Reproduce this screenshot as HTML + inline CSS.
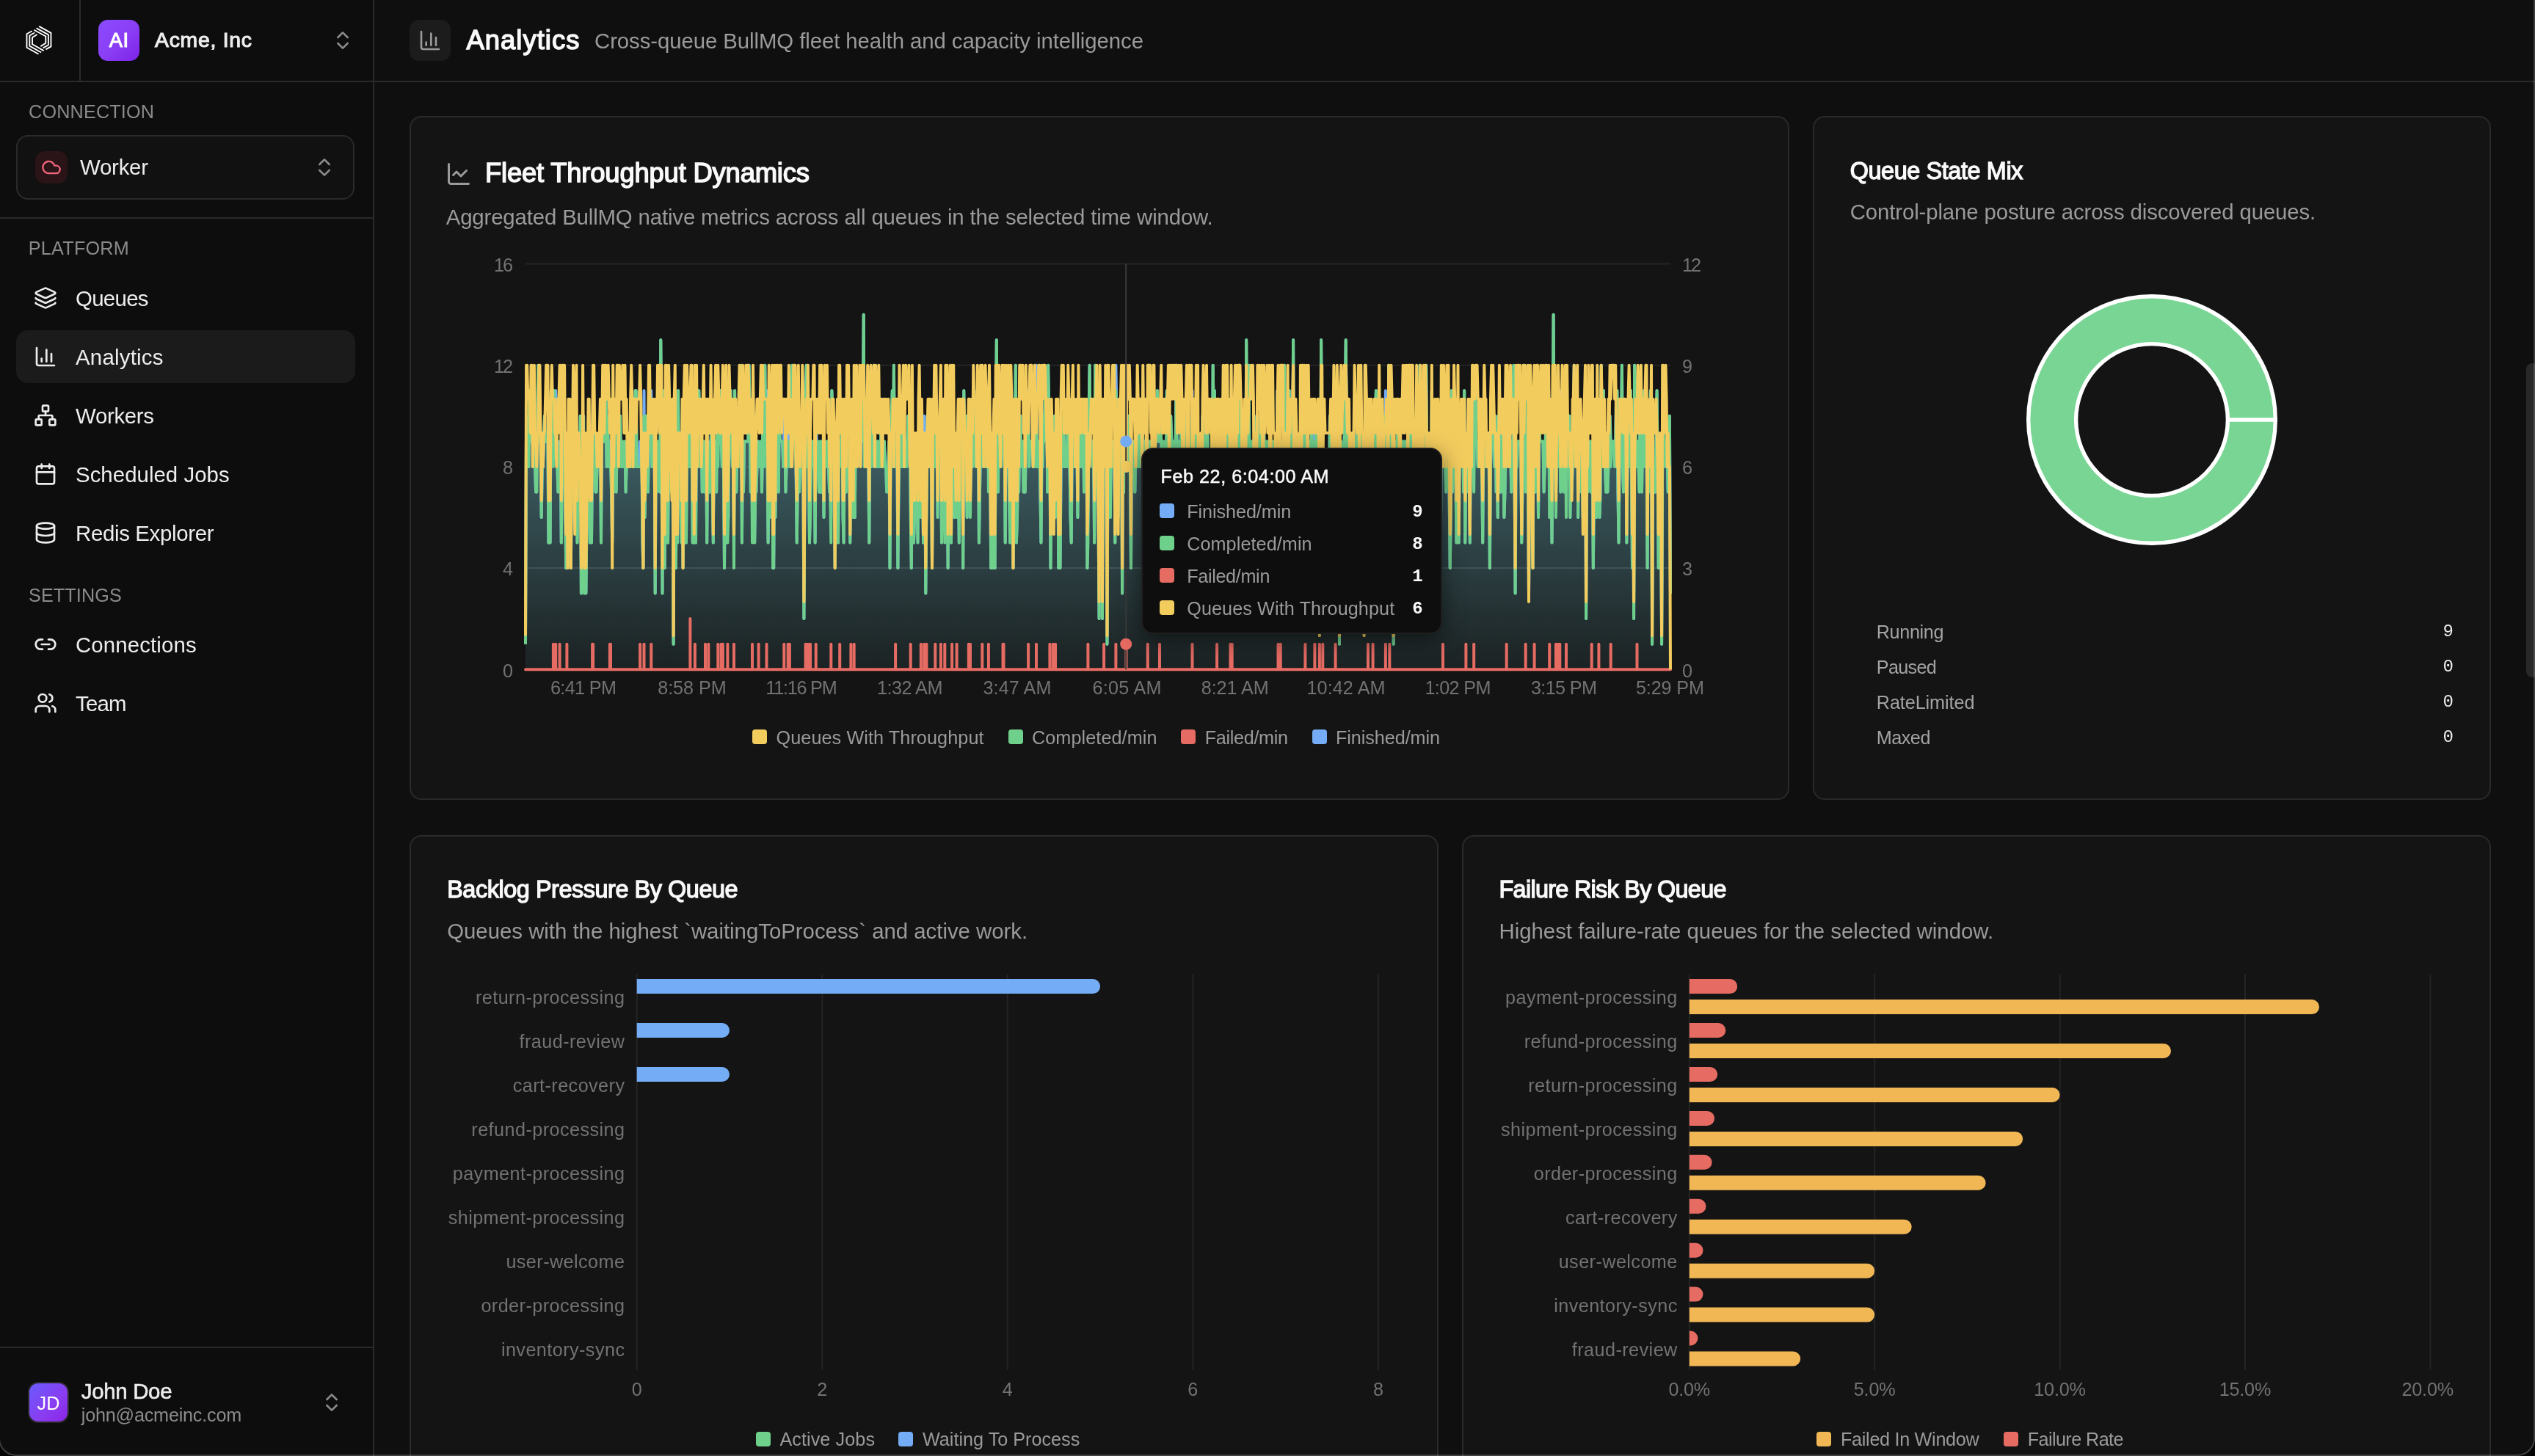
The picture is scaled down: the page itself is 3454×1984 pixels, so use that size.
<!DOCTYPE html>
<html><head><meta charset="utf-8"><title>Analytics</title>
<style>
html,body{margin:0;padding:0;background:#0f0f0f;}
body{width:3454px;height:1984px;position:relative;overflow:hidden;font-family:"Liberation Sans",sans-serif;}
.b{position:absolute;display:block}
.t{position:absolute;white-space:pre;}
#root{position:absolute;left:0;top:0;width:3454px;height:1984px;overflow:hidden;will-change:transform;}
</style></head><body><div id="root">
<div class="b" style="left:0px;top:0px;width:508px;height:1984px;background:#0d0d0d"></div>
<div class="b" style="left:508px;top:0px;width:2px;height:1984px;background:#2a2a2a"></div>
<div class="b" style="left:0px;top:110px;width:3454px;height:2px;background:#2a2a2a"></div>
<div class="b" style="left:108px;top:0px;width:2px;height:110px;background:#2a2a2a"></div>
<svg class="b" style="left:20px;top:20px" width="80" height="80" viewBox="0 0 1456 1456" fill="none" stroke="#fff" stroke-width="34" stroke-linecap="butt" stroke-linejoin="miter"><path d="M430 405L300 478V815L592 978"/><path d="M495 447L370 518V775L657 938"/><path d="M557 492L437 565V732L722 895"/><path d="M605 290L900 452V790L772 862"/><path d="M540 335L835 497V750L705 825"/><path d="M480 377L770 537V707L643 785"/></svg>
<div class="b" style="left:134px;top:27px;width:56px;height:56px;border-radius:13px;background:linear-gradient(135deg,#8a4bff 0%,#8b3ff5 50%,#7e22e8 100%)"></div>
<div class="t" style="left:148.79px;top:38.20px;font-size:27.32px;line-height:34px;color:#fff;letter-spacing:0.600px;-webkit-text-stroke:1.09px #fff;">AI</div>
<div class="t" style="left:211.00px;top:37.00px;font-size:28.34px;line-height:35px;color:#ededed;letter-spacing:0.756px;-webkit-text-stroke:1.13px #ededed;">Acme, Inc</div>
<svg class="b" style="left:451px;top:39px" width="32" height="32" viewBox="0 0 24 24" fill="none" stroke="#8a8a8a" stroke-width="2" stroke-linecap="round" stroke-linejoin="round"><path d="m7 15 5 5 5-5"/><path d="m7 9 5-5 5 5"/></svg>
<div class="t" style="left:39.00px;top:136.40px;font-size:25.2px;line-height:32px;color:#8a8a8a;letter-spacing:0.186px;">CONNECTION</div>
<div class="b" style="left:22px;top:184px;width:461px;height:88px;border-radius:16px;border:2px solid #2a2a2a;box-sizing:border-box;background:#111"></div>
<div class="b" style="left:48px;top:206px;width:44px;height:44px;border-radius:13px;background:#2a1417"></div>
<svg class="b" style="left:56px;top:214px" width="28" height="28" viewBox="0 0 24 24" fill="none" stroke="#f0667c" stroke-width="2" stroke-linecap="round" stroke-linejoin="round"><path d="M17.5 19H9a7 7 0 1 1 6.71-9h1.79a4.5 4.5 0 1 1 0 9Z"/></svg>
<div class="t" style="left:109.00px;top:209.10px;font-size:29.4px;line-height:37px;color:#ededed;letter-spacing:-0.234px;">Worker</div>
<svg class="b" style="left:426px;top:212px" width="32" height="32" viewBox="0 0 24 24" fill="none" stroke="#8a8a8a" stroke-width="2" stroke-linecap="round" stroke-linejoin="round"><path d="m7 15 5 5 5-5"/><path d="m7 9 5-5 5 5"/></svg>
<div class="b" style="left:0px;top:296px;width:508px;height:2px;background:#2a2a2a"></div>
<div class="t" style="left:38.80px;top:322.40px;font-size:25.2px;line-height:32px;color:#8a8a8a;letter-spacing:0.246px;">PLATFORM</div>
<div class="b" style="left:22px;top:450px;width:462px;height:72px;border-radius:16px;background:#1b1b1b"></div>
<svg class="b" style="left:46px;top:390px" width="32" height="32" viewBox="0 0 24 24" fill="none" stroke="#ececec" stroke-width="2" stroke-linecap="round" stroke-linejoin="round"><path d="M12.83 2.18a2 2 0 0 0-1.66 0L2.6 6.08a1 1 0 0 0 0 1.83l8.58 3.91a2 2 0 0 0 1.66 0l8.58-3.9a1 1 0 0 0 0-1.83z"/><path d="M2 12a1 1 0 0 0 .58.91l8.6 3.91a2 2 0 0 0 1.65 0l8.58-3.9A1 1 0 0 0 22 12"/><path d="M2 17a1 1 0 0 0 .58.91l8.6 3.91a2 2 0 0 0 1.65 0l8.58-3.9A1 1 0 0 0 22 17"/></svg>
<div class="t" style="left:103.00px;top:387.50px;font-size:29.4px;line-height:37px;color:#ededed;letter-spacing:-0.691px;">Queues</div>
<svg class="b" style="left:46px;top:470px" width="32" height="32" viewBox="0 0 24 24" fill="none" stroke="#ececec" stroke-width="2" stroke-linecap="round" stroke-linejoin="round"><path d="M3 3v16a2 2 0 0 0 2 2h16"/><path d="M18 17V9"/><path d="M13 17V5"/><path d="M8 17v-3"/></svg>
<div class="t" style="left:103.00px;top:467.50px;font-size:29.4px;line-height:37px;color:#ededed;letter-spacing:0.236px;">Analytics</div>
<svg class="b" style="left:46px;top:550px" width="32" height="32" viewBox="0 0 24 24" fill="none" stroke="#ececec" stroke-width="2" stroke-linecap="round" stroke-linejoin="round"><rect x="16" y="16" width="6" height="6" rx="1"/><rect x="2" y="16" width="6" height="6" rx="1"/><rect x="9" y="2" width="6" height="6" rx="1"/><path d="M5 16v-3a1 1 0 0 1 1-1h12a1 1 0 0 1 1 1v3"/><path d="M12 12V8"/></svg>
<div class="t" style="left:103.00px;top:547.50px;font-size:29.4px;line-height:37px;color:#ededed;letter-spacing:-0.312px;">Workers</div>
<svg class="b" style="left:46px;top:630px" width="32" height="32" viewBox="0 0 24 24" fill="none" stroke="#ececec" stroke-width="2" stroke-linecap="round" stroke-linejoin="round"><path d="M8 2v4"/><path d="M16 2v4"/><rect width="18" height="18" x="3" y="4" rx="2"/><path d="M3 10h18"/></svg>
<div class="t" style="left:103.00px;top:627.50px;font-size:29.4px;line-height:37px;color:#ededed;letter-spacing:0.034px;">Scheduled Jobs</div>
<svg class="b" style="left:46px;top:710px" width="32" height="32" viewBox="0 0 24 24" fill="none" stroke="#ececec" stroke-width="2" stroke-linecap="round" stroke-linejoin="round"><ellipse cx="12" cy="5" rx="9" ry="3"/><path d="M3 5V19A9 3 0 0 0 21 19V5"/><path d="M3 12A9 3 0 0 0 21 12"/></svg>
<div class="t" style="left:103.00px;top:707.50px;font-size:29.4px;line-height:37px;color:#ededed;letter-spacing:-0.327px;">Redis Explorer</div>
<div class="t" style="left:39.00px;top:795.00px;font-size:25.2px;line-height:32px;color:#8a8a8a;letter-spacing:0.107px;">SETTINGS</div>
<svg class="b" style="left:46px;top:862px" width="32" height="32" viewBox="0 0 24 24" fill="none" stroke="#ececec" stroke-width="2" stroke-linecap="round" stroke-linejoin="round"><path d="M9 17H7A5 5 0 0 1 7 7h2"/><path d="M15 7h2a5 5 0 1 1 0 10h-2"/><line x1="8" x2="16" y1="12" y2="12"/></svg>
<div class="t" style="left:103.00px;top:859.50px;font-size:29.4px;line-height:37px;color:#ededed;letter-spacing:0.121px;">Connections</div>
<svg class="b" style="left:46px;top:942px" width="32" height="32" viewBox="0 0 24 24" fill="none" stroke="#ececec" stroke-width="2" stroke-linecap="round" stroke-linejoin="round"><path d="M16 21v-2a4 4 0 0 0-4-4H6a4 4 0 0 0-4 4v2"/><circle cx="9" cy="7" r="4"/><path d="M22 21v-2a4 4 0 0 0-3-3.87"/><path d="M16 3.13a4 4 0 0 1 0 7.75"/></svg>
<div class="t" style="left:103.00px;top:939.50px;font-size:29.4px;line-height:37px;color:#ededed;letter-spacing:-0.792px;">Team</div>
<div class="b" style="left:0px;top:1835px;width:508px;height:2px;background:#2a2a2a"></div>
<div class="b" style="left:38px;top:1883px;width:56px;height:56px;border-radius:14px;border:2px solid #2a2a2a;box-sizing:border-box;background:linear-gradient(135deg,#6a5cff 0%,#8a3cf0 60%,#8a25e8 100%)"></div>
<div class="t" style="left:50.50px;top:1895.50px;font-size:25.2px;line-height:32px;color:#fff;letter-spacing:0.203px;">JD</div>
<div class="t" style="left:110.80px;top:1876.50px;font-size:29.4px;line-height:37px;color:#ededed;letter-spacing:-0.304px;-webkit-text-stroke:0.59px #ededed;">John Doe</div>
<div class="t" style="left:110.80px;top:1912.00px;font-size:25.2px;line-height:32px;color:#8c8c8c;letter-spacing:-0.211px;">john@acmeinc.com</div>
<svg class="b" style="left:436px;top:1895px" width="32" height="32" viewBox="0 0 24 24" fill="none" stroke="#8a8a8a" stroke-width="2" stroke-linecap="round" stroke-linejoin="round"><path d="m7 15 5 5 5-5"/><path d="m7 9 5-5 5 5"/></svg>
<div class="b" style="left:558px;top:27px;width:56px;height:56px;border-radius:13px;background:#1c1c1c"></div>
<svg class="b" style="left:570px;top:39px" width="32" height="32" viewBox="0 0 24 24" fill="none" stroke="#9a9a9a" stroke-width="2" stroke-linecap="round" stroke-linejoin="round"><path d="M3 3v16a2 2 0 0 0 2 2h16"/><path d="M18 17V9"/><path d="M13 17V5"/><path d="M8 17v-3"/></svg>
<div class="t" style="left:635.40px;top:32.10px;font-size:36.43px;line-height:46px;color:#fafafa;letter-spacing:1.031px;-webkit-text-stroke:1.46px #fafafa;">Analytics</div>
<div class="t" style="left:810.00px;top:37.00px;font-size:29.4px;line-height:37px;color:#9a9a9a;letter-spacing:-0.092px;">Cross-queue BullMQ fleet health and capacity intelligence</div>
<div class="b" style="left:558px;top:158px;width:1880px;height:932px;border-radius:16px;border:2px solid #2a2a2a;box-sizing:border-box;background:#141414"></div>
<div class="b" style="left:2470px;top:158px;width:924px;height:932px;border-radius:16px;border:2px solid #2a2a2a;box-sizing:border-box;background:#141414"></div>
<div class="b" style="left:558px;top:1138px;width:1402px;height:900px;border-radius:16px;border:2px solid #2a2a2a;box-sizing:border-box;background:#141414"></div>
<div class="b" style="left:1992px;top:1138px;width:1402px;height:900px;border-radius:16px;border:2px solid #2a2a2a;box-sizing:border-box;background:#141414"></div>
<svg class="b" style="left:607px;top:218.5px" width="36" height="36" viewBox="0 0 24 24" fill="none" stroke="#9a9a9a" stroke-width="2" stroke-linecap="round" stroke-linejoin="round"><path d="M3 3v16a2 2 0 0 0 2 2h16"/><path d="m19 9-5 5-4-4-3 3"/></svg>
<div class="t" style="left:661.00px;top:213.40px;font-size:36.43px;line-height:46px;color:#fafafa;letter-spacing:-0.197px;-webkit-text-stroke:1.46px #fafafa;">Fleet Throughput Dynamics</div>
<div class="t" style="left:607.70px;top:277.20px;font-size:29.4px;line-height:37px;color:#9a9a9a;letter-spacing:-0.153px;">Aggregated BullMQ native metrics across all queues in the selected time window.</div>
<svg class="b" style="left:0;top:0" width="3454" height="1100" viewBox="0 0 3454 1100" fill="none"><defs><linearGradient id="ga" gradientUnits="userSpaceOnUse" x1="0" y1="430" x2="0" y2="912"><stop offset="0" stop-color="#76c6d2" stop-opacity=".62"/><stop offset="1" stop-color="#76c6d2" stop-opacity=".08"/></linearGradient><linearGradient id="gr" gradientUnits="userSpaceOnUse" x1="0" y1="840" x2="0" y2="912"><stop offset="0" stop-color="#e66b63" stop-opacity=".9"/><stop offset="1" stop-color="#e66b63" stop-opacity=".6"/></linearGradient></defs><path d="M716.0,912.2H2276.0" stroke="#242424" stroke-width="2"/><path d="M716.0,774.1H2276.0" stroke="#242424" stroke-width="2"/><path d="M716.0,635.9H2276.0" stroke="#242424" stroke-width="2"/><path d="M716.0,497.8H2276.0" stroke="#242424" stroke-width="2"/><path d="M716.0,359.6H2276.0" stroke="#242424" stroke-width="2"/><path d="M716.0,877.7L717.1,566.8L718.2,601.4L719.3,635.9L720.3,635.9L721.4,532.3L722.5,532.3L723.6,601.4L725.8,601.4L726.8,635.9L727.9,601.4L729.0,635.9L730.1,670.4L731.2,670.4L732.3,566.8L733.3,497.8L734.4,601.4L736.6,601.4L737.7,705.0L738.8,635.9L739.8,635.9L740.9,601.4L742.0,566.8L743.1,601.4L746.4,601.4L747.4,739.5L748.5,566.8L749.6,739.5L750.7,532.3L751.8,601.4L753.9,601.4L755.0,532.3L756.1,601.4L757.2,532.3L758.3,566.8L759.4,635.9L760.4,670.4L761.5,635.9L762.6,601.4L763.7,601.4L764.8,739.5L765.9,635.9L767.0,497.8L768.0,635.9L769.1,601.4L770.2,705.0L771.3,774.1L772.4,601.4L773.5,774.1L774.5,635.9L775.6,601.4L776.7,566.8L777.8,774.1L778.9,670.4L780.0,670.4L781.0,601.4L782.1,635.9L783.2,705.0L784.3,635.9L785.4,601.4L786.5,739.5L787.5,670.4L788.6,601.4L789.7,670.4L790.8,566.8L791.9,808.6L793.0,774.1L794.1,566.8L795.1,566.8L796.2,808.6L797.3,670.4L798.4,808.6L799.5,705.0L800.6,670.4L801.6,601.4L802.7,635.9L803.8,739.5L804.9,635.9L806.0,739.5L807.1,601.4L808.1,532.3L809.2,601.4L810.3,635.9L811.4,670.4L812.5,670.4L813.6,635.9L816.8,635.9L817.9,601.4L819.0,739.5L820.1,566.8L821.2,601.4L822.2,601.4L823.3,566.8L824.4,601.4L825.5,532.3L826.6,635.9L827.7,566.8L828.7,601.4L829.8,635.9L830.9,601.4L832.0,601.4L833.1,670.4L834.2,739.5L835.2,601.4L836.3,670.4L837.4,566.8L838.5,566.8L839.6,670.4L840.7,601.4L841.8,601.4L842.8,566.8L843.9,601.4L845.0,566.8L846.1,635.9L847.2,635.9L848.3,601.4L849.3,635.9L850.4,635.9L851.5,601.4L852.6,670.4L853.7,635.9L856.9,635.9L858.0,601.4L859.1,635.9L860.2,601.4L861.3,635.9L862.4,601.4L863.4,635.9L864.5,635.9L865.6,532.3L866.7,532.3L867.8,635.9L871.0,635.9L872.1,601.4L873.2,635.9L874.3,601.4L875.4,739.5L876.4,774.1L877.5,532.3L878.6,705.0L879.7,635.9L880.8,566.8L881.9,566.8L882.9,670.4L884.0,601.4L886.2,601.4L887.3,532.3L888.4,635.9L889.5,601.4L890.5,635.9L891.6,601.4L892.7,808.6L893.8,601.4L894.9,670.4L896.0,601.4L897.0,635.9L898.1,601.4L899.2,670.4L900.3,463.2L901.4,601.4L902.5,808.6L903.5,532.3L904.6,635.9L905.7,774.1L906.8,532.3L907.9,601.4L909.0,739.5L910.1,739.5L911.1,601.4L912.2,635.9L913.3,635.9L914.4,670.4L915.5,670.4L916.6,635.9L917.6,877.7L918.7,635.9L919.8,601.4L920.9,774.1L922.0,635.9L923.1,739.5L924.1,532.3L925.2,670.4L926.3,601.4L927.4,670.4L928.5,739.5L929.6,601.4L930.6,774.1L931.7,635.9L932.8,601.4L933.9,739.5L935.0,739.5L936.1,601.4L937.2,635.9L938.2,566.8L939.3,635.9L940.4,566.8L941.5,532.3L942.6,601.4L943.7,739.5L944.7,635.9L945.8,739.5L946.9,566.8L948.0,739.5L949.1,566.8L950.2,532.3L951.2,635.9L952.3,532.3L953.4,601.4L954.5,635.9L955.6,566.8L956.7,670.4L957.8,601.4L958.8,601.4L959.9,670.4L961.0,601.4L962.1,601.4L963.2,739.5L964.3,601.4L965.3,601.4L966.4,670.4L967.5,670.4L968.6,601.4L969.7,566.8L970.8,670.4L971.8,739.5L972.9,601.4L974.0,635.9L975.1,601.4L976.2,670.4L977.3,532.3L978.3,601.4L979.4,566.8L980.5,532.3L981.6,532.3L982.7,566.8L983.8,635.9L984.9,601.4L985.9,635.9L987.0,774.1L988.1,635.9L989.2,601.4L990.3,739.5L991.4,705.0L992.4,705.0L993.5,566.8L994.6,566.8L995.7,532.3L996.8,601.4L997.9,635.9L998.9,601.4L1000.0,739.5L1001.1,532.3L1002.2,635.9L1003.3,670.4L1004.4,566.8L1005.5,635.9L1006.5,601.4L1007.6,601.4L1008.7,635.9L1009.8,497.8L1010.9,739.5L1012.0,601.4L1013.0,670.4L1014.1,601.4L1019.5,601.4L1020.6,497.8L1021.7,566.8L1022.8,670.4L1023.9,566.8L1025.0,705.0L1026.0,532.3L1027.1,635.9L1028.2,739.5L1029.3,670.4L1030.4,670.4L1031.5,635.9L1032.6,601.4L1033.6,601.4L1034.7,635.9L1035.8,635.9L1036.9,601.4L1038.0,670.4L1039.1,601.4L1040.1,532.3L1041.2,635.9L1042.3,497.8L1043.4,601.4L1044.5,532.3L1045.6,635.9L1046.6,739.5L1047.7,601.4L1048.8,705.0L1049.9,635.9L1051.0,566.8L1052.1,566.8L1053.2,774.1L1054.2,774.1L1055.3,601.4L1056.4,705.0L1057.5,601.4L1058.6,566.8L1059.7,601.4L1060.7,670.4L1061.8,566.8L1062.9,601.4L1066.2,601.4L1067.2,635.9L1068.3,566.8L1069.4,601.4L1070.5,670.4L1071.6,635.9L1072.7,635.9L1073.7,566.8L1074.8,601.4L1075.9,601.4L1077.0,635.9L1078.1,601.4L1079.2,497.8L1080.3,566.8L1081.3,532.3L1082.4,601.4L1083.5,601.4L1084.6,635.9L1085.7,739.5L1086.8,670.4L1087.8,532.3L1088.9,670.4L1090.0,635.9L1091.1,566.8L1092.2,566.8L1093.3,601.4L1094.3,635.9L1095.4,843.1L1096.5,670.4L1097.6,532.3L1098.7,497.8L1099.8,635.9L1100.9,601.4L1101.9,635.9L1103.0,739.5L1104.1,670.4L1105.2,635.9L1106.3,601.4L1107.4,635.9L1108.4,601.4L1109.5,601.4L1110.6,739.5L1111.7,566.8L1112.8,601.4L1113.9,601.4L1114.9,635.9L1116.0,670.4L1117.1,601.4L1118.2,670.4L1119.3,601.4L1120.4,670.4L1121.4,635.9L1122.5,705.0L1123.6,601.4L1124.7,635.9L1125.8,635.9L1126.9,601.4L1128.0,601.4L1129.0,635.9L1130.1,670.4L1131.2,670.4L1132.3,705.0L1133.4,532.3L1134.5,566.8L1135.5,566.8L1136.6,601.4L1137.7,774.1L1138.8,635.9L1141.0,635.9L1142.0,739.5L1143.1,601.4L1146.4,601.4L1147.5,566.8L1148.6,705.0L1149.6,739.5L1150.7,635.9L1151.8,601.4L1152.9,670.4L1154.0,601.4L1155.1,635.9L1156.1,601.4L1157.2,635.9L1158.3,739.5L1159.4,601.4L1160.5,635.9L1161.6,670.4L1162.6,705.0L1163.7,601.4L1164.8,705.0L1165.9,566.8L1167.0,601.4L1168.1,532.3L1169.1,601.4L1171.3,601.4L1172.4,635.9L1173.5,566.8L1174.6,601.4L1175.7,566.8L1176.7,428.7L1177.8,635.9L1178.9,601.4L1180.0,635.9L1181.1,601.4L1182.2,601.4L1183.2,635.9L1184.3,739.5L1185.4,566.8L1186.5,601.4L1187.6,635.9L1188.7,532.3L1189.7,532.3L1190.8,497.8L1191.9,635.9L1193.0,601.4L1194.1,635.9L1195.2,601.4L1196.3,635.9L1197.3,601.4L1198.4,635.9L1199.5,635.9L1200.6,566.8L1201.7,566.8L1202.8,635.9L1203.8,635.9L1204.9,601.4L1206.0,635.9L1207.1,635.9L1208.2,670.4L1209.3,635.9L1210.3,635.9L1211.4,601.4L1212.5,774.1L1213.6,601.4L1214.7,566.8L1215.8,532.3L1216.8,635.9L1217.9,497.8L1219.0,635.9L1220.1,601.4L1221.2,635.9L1222.3,601.4L1223.4,774.1L1224.4,670.4L1225.5,566.8L1226.6,635.9L1227.7,635.9L1228.8,566.8L1229.9,635.9L1230.9,601.4L1232.0,635.9L1233.1,635.9L1234.2,601.4L1235.3,635.9L1236.4,601.4L1237.4,566.8L1239.6,566.8L1240.7,670.4L1241.8,774.1L1242.9,601.4L1243.9,670.4L1245.0,739.5L1246.1,705.0L1247.2,601.4L1248.3,601.4L1249.4,635.9L1250.5,739.5L1251.5,635.9L1252.6,601.4L1253.7,635.9L1254.8,670.4L1255.9,601.4L1257.0,635.9L1258.0,739.5L1259.1,566.8L1260.2,635.9L1261.3,808.6L1262.4,670.4L1263.5,566.8L1264.5,635.9L1265.6,635.9L1266.7,566.8L1267.8,635.9L1268.9,635.9L1270.0,774.1L1271.1,635.9L1272.1,601.4L1273.2,566.8L1274.3,601.4L1275.4,566.8L1276.5,601.4L1277.6,705.0L1278.6,601.4L1279.7,601.4L1280.8,635.9L1281.9,566.8L1283.0,739.5L1284.1,635.9L1285.1,635.9L1286.2,601.4L1287.3,705.0L1288.4,566.8L1289.5,635.9L1290.6,601.4L1291.6,774.1L1292.7,601.4L1293.8,635.9L1294.9,601.4L1296.0,739.5L1297.1,566.8L1298.2,635.9L1299.2,601.4L1300.3,705.0L1301.4,635.9L1302.5,670.4L1304.7,670.4L1305.7,635.9L1306.8,739.5L1307.9,635.9L1309.0,566.8L1310.1,601.4L1311.2,601.4L1312.2,774.1L1313.3,532.3L1314.4,635.9L1315.5,566.8L1316.6,635.9L1317.7,705.0L1318.8,566.8L1319.8,635.9L1320.9,566.8L1322.0,670.4L1323.1,601.4L1324.2,566.8L1325.3,635.9L1326.3,566.8L1327.4,532.3L1328.5,601.4L1329.6,635.9L1330.7,635.9L1331.8,601.4L1332.8,566.8L1333.9,739.5L1335.0,670.4L1336.1,601.4L1337.2,635.9L1338.3,497.8L1339.3,601.4L1340.4,601.4L1341.5,635.9L1342.6,566.8L1343.7,635.9L1344.8,532.3L1345.9,532.3L1346.9,635.9L1348.0,601.4L1349.1,635.9L1350.2,774.1L1351.3,670.4L1352.4,774.1L1353.4,601.4L1354.5,635.9L1355.6,774.1L1356.7,601.4L1357.8,463.2L1358.9,601.4L1359.9,670.4L1361.0,532.3L1362.1,601.4L1363.2,635.9L1364.3,635.9L1365.4,601.4L1366.5,566.8L1367.5,532.3L1368.6,566.8L1369.7,739.5L1370.8,566.8L1371.9,635.9L1373.0,601.4L1374.0,601.4L1375.1,670.4L1376.2,739.5L1377.3,566.8L1378.4,635.9L1379.5,635.9L1380.5,774.1L1381.6,635.9L1382.7,635.9L1383.8,497.8L1384.9,739.5L1386.0,705.0L1387.0,635.9L1388.1,670.4L1389.2,601.4L1390.3,566.8L1391.4,635.9L1392.5,601.4L1393.6,601.4L1394.6,670.4L1395.7,601.4L1396.8,670.4L1397.9,601.4L1399.0,566.8L1400.1,566.8L1401.1,532.3L1402.2,635.9L1403.3,601.4L1406.6,601.4L1407.6,635.9L1408.7,601.4L1409.8,532.3L1410.9,635.9L1412.0,497.8L1413.1,635.9L1414.2,635.9L1415.2,601.4L1416.3,601.4L1417.4,670.4L1418.5,739.5L1419.6,601.4L1420.7,635.9L1421.7,566.8L1422.8,601.4L1423.9,532.3L1425.0,566.8L1426.1,532.3L1427.2,670.4L1428.2,497.8L1429.3,566.8L1430.4,601.4L1431.5,774.1L1432.6,635.9L1434.7,635.9L1435.8,705.0L1436.9,566.8L1438.0,670.4L1439.1,635.9L1440.2,601.4L1441.3,635.9L1442.3,774.1L1443.4,601.4L1444.5,774.1L1445.6,635.9L1446.7,601.4L1447.8,635.9L1448.8,566.8L1449.9,601.4L1451.0,635.9L1453.2,635.9L1454.3,601.4L1455.3,566.8L1456.4,635.9L1457.5,635.9L1458.6,705.0L1459.7,739.5L1460.8,601.4L1461.9,532.3L1462.9,635.9L1464.0,601.4L1465.1,635.9L1466.2,601.4L1467.3,601.4L1468.4,705.0L1469.4,601.4L1470.5,601.4L1471.6,566.8L1472.7,635.9L1474.9,635.9L1475.9,566.8L1477.0,670.4L1478.1,601.4L1479.2,566.8L1480.3,566.8L1481.4,774.1L1482.4,705.0L1483.5,566.8L1484.6,497.8L1485.7,601.4L1487.9,601.4L1489.0,635.9L1490.0,601.4L1491.1,739.5L1492.2,497.8L1493.3,566.8L1494.4,532.3L1495.5,670.4L1496.5,705.0L1497.6,843.1L1498.7,601.4L1499.8,670.4L1500.9,635.9L1502.0,843.1L1503.0,635.9L1504.1,601.4L1506.3,601.4L1507.4,635.9L1508.5,877.7L1509.6,601.4L1511.7,601.4L1512.8,705.0L1513.9,601.4L1515.0,635.9L1516.1,601.4L1517.1,635.9L1518.2,601.4L1519.3,739.5L1520.4,497.8L1521.5,566.8L1522.6,601.4L1523.6,705.0L1524.7,601.4L1525.8,566.8L1526.9,635.9L1528.0,601.4L1529.1,808.6L1530.1,601.4L1531.2,635.9L1532.3,670.4L1533.4,601.4L1535.6,601.4L1536.7,635.9L1537.7,566.8L1538.8,601.4L1539.9,635.9L1541.0,774.1L1542.1,601.4L1544.2,601.4L1545.3,635.9L1546.4,670.4L1547.5,601.4L1548.6,635.9L1549.7,566.8L1550.7,635.9L1552.9,635.9L1554.0,601.4L1555.1,566.8L1556.2,566.8L1557.3,601.4L1558.3,635.9L1559.4,601.4L1560.5,635.9L1561.6,670.4L1562.7,705.0L1563.8,601.4L1567.0,601.4L1568.1,635.9L1569.2,670.4L1570.3,670.4L1571.3,601.4L1572.4,601.4L1573.5,566.8L1574.6,601.4L1575.7,566.8L1576.8,532.3L1577.8,601.4L1578.9,601.4L1580.0,566.8L1581.1,566.8L1582.2,601.4L1583.3,670.4L1584.4,601.4L1585.4,670.4L1586.5,635.9L1587.6,601.4L1588.7,670.4L1589.8,532.3L1590.9,566.8L1591.9,601.4L1594.1,601.4L1595.2,566.8L1596.3,601.4L1597.4,635.9L1598.4,601.4L1599.5,601.4L1600.6,635.9L1601.7,601.4L1602.8,497.8L1603.9,635.9L1605.0,635.9L1606.0,601.4L1607.1,601.4L1608.2,635.9L1609.3,566.8L1610.4,601.4L1611.5,670.4L1612.5,601.4L1613.6,566.8L1614.7,635.9L1615.8,635.9L1616.9,601.4L1618.0,566.8L1619.0,774.1L1620.1,601.4L1621.2,601.4L1622.3,635.9L1623.4,601.4L1624.5,532.3L1625.5,635.9L1627.7,635.9L1628.8,566.8L1629.9,601.4L1631.0,670.4L1632.1,601.4L1633.1,774.1L1634.2,774.1L1635.3,601.4L1636.4,601.4L1637.5,739.5L1638.6,566.8L1639.6,601.4L1640.7,601.4L1641.8,635.9L1642.9,635.9L1644.0,566.8L1645.1,566.8L1646.1,635.9L1648.3,635.9L1649.4,670.4L1650.5,635.9L1651.6,705.0L1652.7,497.8L1653.7,566.8L1654.8,532.3L1655.9,670.4L1657.0,670.4L1658.1,566.8L1659.2,601.4L1660.2,601.4L1661.3,670.4L1662.4,705.0L1663.5,601.4L1664.6,635.9L1665.7,601.4L1666.7,601.4L1667.8,670.4L1668.9,739.5L1670.0,566.8L1671.1,670.4L1672.2,601.4L1673.2,601.4L1674.3,566.8L1675.4,566.8L1676.5,739.5L1677.6,566.8L1678.7,635.9L1679.8,635.9L1680.8,566.8L1681.9,601.4L1683.0,601.4L1684.1,739.5L1685.2,601.4L1686.3,635.9L1687.3,601.4L1688.4,497.8L1689.5,601.4L1690.6,635.9L1691.7,635.9L1692.8,774.1L1693.8,566.8L1694.9,601.4L1696.0,566.8L1697.1,705.0L1698.2,463.2L1699.3,635.9L1700.4,670.4L1701.4,497.8L1702.5,635.9L1703.6,635.9L1704.7,601.4L1705.8,635.9L1706.9,601.4L1707.9,635.9L1709.0,705.0L1710.1,670.4L1711.2,635.9L1712.3,566.8L1713.4,566.8L1714.4,635.9L1715.5,601.4L1716.6,635.9L1717.7,601.4L1718.8,532.3L1719.9,566.8L1720.9,739.5L1722.0,566.8L1723.1,670.4L1724.2,601.4L1725.3,635.9L1726.4,601.4L1727.5,635.9L1728.5,635.9L1729.6,601.4L1730.7,774.1L1731.8,670.4L1732.9,601.4L1734.0,601.4L1735.0,635.9L1736.1,635.9L1737.2,601.4L1738.3,635.9L1739.4,635.9L1740.5,532.3L1741.5,601.4L1742.6,635.9L1743.7,808.6L1744.8,601.4L1748.1,601.4L1749.1,739.5L1750.2,497.8L1751.3,635.9L1752.4,635.9L1753.5,705.0L1754.6,601.4L1755.6,739.5L1756.7,532.3L1757.8,670.4L1758.9,635.9L1760.0,601.4L1761.1,635.9L1762.1,463.2L1763.2,705.0L1764.3,635.9L1766.5,635.9L1767.6,670.4L1768.6,705.0L1769.7,705.0L1770.8,843.1L1771.9,601.4L1773.0,705.0L1774.1,601.4L1775.2,566.8L1776.2,532.3L1777.3,566.8L1778.4,601.4L1779.5,635.9L1780.6,601.4L1781.7,739.5L1782.7,601.4L1783.8,601.4L1784.9,635.9L1786.0,635.9L1787.1,566.8L1788.2,670.4L1789.2,635.9L1790.3,635.9L1791.4,566.8L1792.5,635.9L1793.6,566.8L1794.7,635.9L1796.8,635.9L1797.9,808.6L1799.0,705.0L1800.1,463.2L1801.2,601.4L1802.3,670.4L1803.3,635.9L1805.5,635.9L1806.6,670.4L1807.7,635.9L1809.8,635.9L1810.9,670.4L1812.0,566.8L1813.1,635.9L1814.2,635.9L1815.3,739.5L1816.3,670.4L1817.4,601.4L1818.5,566.8L1819.6,705.0L1820.7,670.4L1821.8,601.4L1822.9,635.9L1823.9,635.9L1825.0,877.7L1826.1,601.4L1827.2,601.4L1828.3,635.9L1830.4,635.9L1831.5,601.4L1832.6,566.8L1833.7,463.2L1834.8,566.8L1835.9,670.4L1836.9,601.4L1838.0,601.4L1839.1,635.9L1840.2,670.4L1841.3,808.6L1842.4,670.4L1843.4,635.9L1844.5,601.4L1845.6,601.4L1846.7,635.9L1847.8,635.9L1848.9,566.8L1850.0,635.9L1851.0,601.4L1852.1,670.4L1853.2,566.8L1854.3,601.4L1855.4,601.4L1856.5,670.4L1857.5,601.4L1858.6,843.1L1859.7,601.4L1860.8,601.4L1861.9,635.9L1863.0,635.9L1864.0,601.4L1865.1,705.0L1866.2,635.9L1868.4,635.9L1869.5,566.8L1870.6,601.4L1871.6,635.9L1872.7,566.8L1873.8,566.8L1874.9,532.3L1876.0,635.9L1877.1,635.9L1878.1,739.5L1879.2,601.4L1880.3,601.4L1881.4,670.4L1882.5,566.8L1883.6,635.9L1884.6,635.9L1885.7,566.8L1886.8,670.4L1887.9,532.3L1889.0,601.4L1890.1,635.9L1891.1,705.0L1892.2,497.8L1893.3,601.4L1894.4,635.9L1895.5,601.4L1896.6,635.9L1897.7,566.8L1898.7,877.7L1899.8,601.4L1900.9,670.4L1902.0,601.4L1903.1,670.4L1904.2,566.8L1905.2,635.9L1906.3,635.9L1907.4,774.1L1908.5,635.9L1909.6,601.4L1910.7,635.9L1911.7,601.4L1912.8,670.4L1913.9,601.4L1915.0,601.4L1916.1,635.9L1917.2,601.4L1918.3,635.9L1919.3,566.8L1920.4,601.4L1921.5,601.4L1922.6,635.9L1923.7,601.4L1924.8,566.8L1925.8,670.4L1926.9,739.5L1928.0,670.4L1929.1,670.4L1930.2,601.4L1931.3,635.9L1932.3,601.4L1933.4,705.0L1934.5,497.8L1935.6,601.4L1936.7,566.8L1937.8,635.9L1938.8,774.1L1939.9,601.4L1941.0,635.9L1942.1,601.4L1943.2,497.8L1944.3,635.9L1945.4,601.4L1946.4,601.4L1947.5,705.0L1948.6,670.4L1949.7,739.5L1950.8,532.3L1951.9,705.0L1952.9,635.9L1954.0,566.8L1955.1,635.9L1956.2,705.0L1957.3,566.8L1958.4,635.9L1959.4,566.8L1960.5,635.9L1961.6,601.4L1962.7,774.1L1963.8,566.8L1964.9,566.8L1966.0,601.4L1967.0,566.8L1968.1,635.9L1969.2,635.9L1970.3,670.4L1971.4,601.4L1972.5,566.8L1973.5,601.4L1974.6,670.4L1975.7,774.1L1976.8,705.0L1977.9,532.3L1979.0,670.4L1980.0,635.9L1981.1,532.3L1982.2,635.9L1983.3,635.9L1984.4,739.5L1985.5,705.0L1986.5,601.4L1987.6,739.5L1988.7,635.9L1992.0,635.9L1993.1,566.8L1994.1,670.4L1995.2,532.3L1996.3,739.5L1997.4,601.4L1998.5,670.4L1999.6,635.9L2000.6,601.4L2001.7,635.9L2002.8,739.5L2003.9,601.4L2005.0,635.9L2006.1,566.8L2007.1,601.4L2008.2,635.9L2009.3,532.3L2010.4,532.3L2011.5,601.4L2012.6,601.4L2013.7,635.9L2014.7,635.9L2015.8,601.4L2018.0,601.4L2019.1,635.9L2020.2,739.5L2021.2,601.4L2022.3,601.4L2023.4,635.9L2026.7,635.9L2027.7,601.4L2028.8,635.9L2029.9,774.1L2031.0,635.9L2032.1,601.4L2033.2,566.8L2034.2,601.4L2035.3,566.8L2036.4,635.9L2037.5,566.8L2038.6,670.4L2039.7,635.9L2040.8,705.0L2041.8,566.8L2042.9,601.4L2044.0,670.4L2045.1,670.4L2046.2,635.9L2047.3,566.8L2048.3,635.9L2049.4,705.0L2050.5,670.4L2051.6,601.4L2052.7,532.3L2053.8,601.4L2054.8,635.9L2057.0,635.9L2058.1,601.4L2059.2,670.4L2060.3,601.4L2061.4,601.4L2062.4,497.8L2063.5,635.9L2064.6,808.6L2065.7,601.4L2066.8,635.9L2067.9,601.4L2072.2,601.4L2073.3,739.5L2074.4,670.4L2075.4,601.4L2076.5,635.9L2077.6,497.8L2078.7,635.9L2079.8,566.8L2080.9,635.9L2081.9,601.4L2083.0,808.6L2084.1,635.9L2085.2,601.4L2086.3,635.9L2087.4,670.4L2088.5,774.1L2089.5,566.8L2090.6,601.4L2091.7,670.4L2092.8,635.9L2093.9,601.4L2095.0,601.4L2096.0,705.0L2097.1,566.8L2098.2,601.4L2102.5,601.4L2103.6,670.4L2104.7,635.9L2105.8,601.4L2106.9,497.8L2108.0,601.4L2109.1,601.4L2110.1,532.3L2111.2,670.4L2112.3,635.9L2113.4,601.4L2114.5,739.5L2115.6,601.4L2116.6,428.7L2117.7,635.9L2118.8,566.8L2119.9,670.4L2121.0,635.9L2122.1,566.8L2123.1,601.4L2124.2,635.9L2125.3,532.3L2126.4,670.4L2127.5,635.9L2128.6,601.4L2129.6,601.4L2130.7,670.4L2131.8,601.4L2132.9,532.3L2134.0,670.4L2135.1,601.4L2136.2,635.9L2137.2,566.8L2138.3,566.8L2139.4,705.0L2140.5,635.9L2141.6,670.4L2142.7,635.9L2143.7,635.9L2144.8,497.8L2145.9,601.4L2147.0,601.4L2148.1,635.9L2149.2,566.8L2150.2,705.0L2151.3,566.8L2152.4,566.8L2153.5,635.9L2154.6,670.4L2155.7,635.9L2156.8,705.0L2157.8,670.4L2158.9,566.8L2160.0,601.4L2161.1,843.1L2162.2,601.4L2163.3,670.4L2164.3,601.4L2166.5,601.4L2167.6,670.4L2168.7,601.4L2169.8,601.4L2170.8,774.1L2171.9,670.4L2173.0,601.4L2174.1,635.9L2175.2,705.0L2176.3,601.4L2177.3,601.4L2178.4,635.9L2179.5,705.0L2180.6,670.4L2181.7,497.8L2182.8,635.9L2183.9,635.9L2184.9,532.3L2186.0,635.9L2187.1,635.9L2188.2,670.4L2189.3,635.9L2190.4,670.4L2191.4,635.9L2192.5,566.8L2193.6,566.8L2194.7,601.4L2199.0,601.4L2200.1,635.9L2201.2,601.4L2202.3,532.3L2203.4,532.3L2204.5,670.4L2205.5,739.5L2206.6,635.9L2207.7,635.9L2208.8,601.4L2209.9,497.8L2211.0,635.9L2212.0,670.4L2213.1,635.9L2214.2,601.4L2215.3,566.8L2216.4,739.5L2217.5,635.9L2218.5,566.8L2219.6,601.4L2220.7,635.9L2221.8,532.3L2222.9,635.9L2224.0,774.1L2225.0,635.9L2226.1,843.1L2227.2,497.8L2228.3,532.3L2229.4,635.9L2230.5,601.4L2231.6,601.4L2232.6,635.9L2233.7,670.4L2234.8,532.3L2235.9,601.4L2237.0,670.4L2238.1,601.4L2239.1,566.8L2240.2,532.3L2241.3,635.9L2242.4,601.4L2243.5,601.4L2244.6,774.1L2245.6,566.8L2246.7,670.4L2247.8,601.4L2248.9,532.3L2250.0,566.8L2251.1,877.7L2252.2,635.9L2253.2,670.4L2254.3,635.9L2255.4,670.4L2256.5,601.4L2257.6,532.3L2258.7,635.9L2259.7,774.1L2260.8,774.1L2261.9,601.4L2263.0,670.4L2264.1,877.7L2265.2,601.4L2266.2,532.3L2267.3,601.4L2268.4,635.9L2269.5,601.4L2271.7,601.4L2272.7,670.4L2273.8,670.4L2274.9,566.8L2276.0,808.6V912.2H716.0Z" fill="url(#ga)"/><path d="M716.0,877.7L717.1,566.8L718.2,601.4L719.3,635.9L720.3,635.9L721.4,532.3L722.5,532.3L723.6,601.4L725.8,601.4L726.8,635.9L727.9,601.4L729.0,635.9L730.1,670.4L731.2,670.4L732.3,566.8L733.3,497.8L734.4,601.4L736.6,601.4L737.7,705.0L738.8,635.9L739.8,635.9L740.9,601.4L742.0,566.8L743.1,601.4L746.4,601.4L747.4,739.5L748.5,566.8L749.6,739.5L750.7,532.3L751.8,601.4L753.9,601.4L755.0,532.3L756.1,601.4L757.2,532.3L758.3,566.8L759.4,635.9L760.4,670.4L761.5,635.9L762.6,601.4L763.7,601.4L764.8,739.5L765.9,635.9L767.0,497.8L768.0,635.9L769.1,601.4L770.2,705.0L771.3,774.1L772.4,601.4L773.5,774.1L774.5,635.9L775.6,601.4L776.7,566.8L777.8,774.1L778.9,670.4L780.0,670.4L781.0,601.4L782.1,635.9L783.2,705.0L784.3,635.9L785.4,601.4L786.5,739.5L787.5,670.4L788.6,601.4L789.7,670.4L790.8,566.8L791.9,808.6L793.0,774.1L794.1,566.8L795.1,566.8L796.2,808.6L797.3,670.4L798.4,808.6L799.5,705.0L800.6,670.4L801.6,601.4L802.7,635.9L803.8,739.5L804.9,635.9L806.0,739.5L807.1,601.4L808.1,532.3L809.2,601.4L810.3,635.9L811.4,670.4L812.5,670.4L813.6,635.9L816.8,635.9L817.9,601.4L819.0,739.5L820.1,566.8L821.2,601.4L822.2,601.4L823.3,566.8L824.4,601.4L825.5,532.3L826.6,635.9L827.7,566.8L828.7,601.4L829.8,635.9L830.9,601.4L832.0,601.4L833.1,670.4L834.2,739.5L835.2,601.4L836.3,670.4L837.4,566.8L838.5,566.8L839.6,670.4L840.7,601.4L841.8,601.4L842.8,566.8L843.9,601.4L845.0,566.8L846.1,635.9L847.2,635.9L848.3,601.4L849.3,635.9L850.4,635.9L851.5,601.4L852.6,670.4L853.7,635.9L856.9,635.9L858.0,601.4L859.1,635.9L860.2,601.4L861.3,635.9L862.4,601.4L863.4,635.9L864.5,635.9L865.6,532.3L866.7,532.3L867.8,635.9L871.0,635.9L872.1,601.4L873.2,635.9L874.3,601.4L875.4,739.5L876.4,774.1L877.5,532.3L878.6,705.0L879.7,635.9L880.8,566.8L881.9,566.8L882.9,670.4L884.0,601.4L886.2,601.4L887.3,532.3L888.4,635.9L889.5,601.4L890.5,635.9L891.6,601.4L892.7,808.6L893.8,601.4L894.9,670.4L896.0,601.4L897.0,635.9L898.1,601.4L899.2,670.4L900.3,463.2L901.4,601.4L902.5,808.6L903.5,532.3L904.6,635.9L905.7,774.1L906.8,532.3L907.9,601.4L909.0,739.5L910.1,739.5L911.1,601.4L912.2,635.9L913.3,635.9L914.4,670.4L915.5,670.4L916.6,635.9L917.6,877.7L918.7,635.9L919.8,601.4L920.9,774.1L922.0,635.9L923.1,739.5L924.1,532.3L925.2,670.4L926.3,601.4L927.4,670.4L928.5,739.5L929.6,601.4L930.6,774.1L931.7,635.9L932.8,601.4L933.9,739.5L935.0,739.5L936.1,601.4L937.2,635.9L938.2,566.8L939.3,635.9L940.4,566.8L941.5,532.3L942.6,601.4L943.7,739.5L944.7,635.9L945.8,739.5L946.9,566.8L948.0,739.5L949.1,566.8L950.2,532.3L951.2,635.9L952.3,532.3L953.4,601.4L954.5,635.9L955.6,566.8L956.7,670.4L957.8,601.4L958.8,601.4L959.9,670.4L961.0,601.4L962.1,601.4L963.2,739.5L964.3,601.4L965.3,601.4L966.4,670.4L967.5,670.4L968.6,601.4L969.7,566.8L970.8,670.4L971.8,739.5L972.9,601.4L974.0,635.9L975.1,601.4L976.2,670.4L977.3,532.3L978.3,601.4L979.4,566.8L980.5,532.3L981.6,532.3L982.7,566.8L983.8,635.9L984.9,601.4L985.9,635.9L987.0,774.1L988.1,635.9L989.2,601.4L990.3,739.5L991.4,705.0L992.4,705.0L993.5,566.8L994.6,566.8L995.7,532.3L996.8,601.4L997.9,635.9L998.9,601.4L1000.0,739.5L1001.1,532.3L1002.2,635.9L1003.3,670.4L1004.4,566.8L1005.5,635.9L1006.5,601.4L1007.6,601.4L1008.7,635.9L1009.8,497.8L1010.9,739.5L1012.0,601.4L1013.0,670.4L1014.1,601.4L1019.5,601.4L1020.6,497.8L1021.7,566.8L1022.8,670.4L1023.9,566.8L1025.0,705.0L1026.0,532.3L1027.1,635.9L1028.2,739.5L1029.3,670.4L1030.4,670.4L1031.5,635.9L1032.6,601.4L1033.6,601.4L1034.7,635.9L1035.8,635.9L1036.9,601.4L1038.0,670.4L1039.1,601.4L1040.1,532.3L1041.2,635.9L1042.3,497.8L1043.4,601.4L1044.5,532.3L1045.6,635.9L1046.6,739.5L1047.7,601.4L1048.8,705.0L1049.9,635.9L1051.0,566.8L1052.1,566.8L1053.2,774.1L1054.2,774.1L1055.3,601.4L1056.4,705.0L1057.5,601.4L1058.6,566.8L1059.7,601.4L1060.7,670.4L1061.8,566.8L1062.9,601.4L1066.2,601.4L1067.2,635.9L1068.3,566.8L1069.4,601.4L1070.5,670.4L1071.6,635.9L1072.7,635.9L1073.7,566.8L1074.8,601.4L1075.9,601.4L1077.0,635.9L1078.1,601.4L1079.2,497.8L1080.3,566.8L1081.3,532.3L1082.4,601.4L1083.5,601.4L1084.6,635.9L1085.7,739.5L1086.8,670.4L1087.8,532.3L1088.9,670.4L1090.0,635.9L1091.1,566.8L1092.2,566.8L1093.3,601.4L1094.3,635.9L1095.4,843.1L1096.5,670.4L1097.6,532.3L1098.7,497.8L1099.8,635.9L1100.9,601.4L1101.9,635.9L1103.0,739.5L1104.1,670.4L1105.2,635.9L1106.3,601.4L1107.4,635.9L1108.4,601.4L1109.5,601.4L1110.6,739.5L1111.7,566.8L1112.8,601.4L1113.9,601.4L1114.9,635.9L1116.0,670.4L1117.1,601.4L1118.2,670.4L1119.3,601.4L1120.4,670.4L1121.4,635.9L1122.5,705.0L1123.6,601.4L1124.7,635.9L1125.8,635.9L1126.9,601.4L1128.0,601.4L1129.0,635.9L1130.1,670.4L1131.2,670.4L1132.3,705.0L1133.4,532.3L1134.5,566.8L1135.5,566.8L1136.6,601.4L1137.7,774.1L1138.8,635.9L1141.0,635.9L1142.0,739.5L1143.1,601.4L1146.4,601.4L1147.5,566.8L1148.6,705.0L1149.6,739.5L1150.7,635.9L1151.8,601.4L1152.9,670.4L1154.0,601.4L1155.1,635.9L1156.1,601.4L1157.2,635.9L1158.3,739.5L1159.4,601.4L1160.5,635.9L1161.6,670.4L1162.6,705.0L1163.7,601.4L1164.8,705.0L1165.9,566.8L1167.0,601.4L1168.1,532.3L1169.1,601.4L1171.3,601.4L1172.4,635.9L1173.5,566.8L1174.6,601.4L1175.7,566.8L1176.7,428.7L1177.8,635.9L1178.9,601.4L1180.0,635.9L1181.1,601.4L1182.2,601.4L1183.2,635.9L1184.3,739.5L1185.4,566.8L1186.5,601.4L1187.6,635.9L1188.7,532.3L1189.7,532.3L1190.8,497.8L1191.9,635.9L1193.0,601.4L1194.1,635.9L1195.2,601.4L1196.3,635.9L1197.3,601.4L1198.4,635.9L1199.5,635.9L1200.6,566.8L1201.7,566.8L1202.8,635.9L1203.8,635.9L1204.9,601.4L1206.0,635.9L1207.1,635.9L1208.2,670.4L1209.3,635.9L1210.3,635.9L1211.4,601.4L1212.5,774.1L1213.6,601.4L1214.7,566.8L1215.8,532.3L1216.8,635.9L1217.9,497.8L1219.0,635.9L1220.1,601.4L1221.2,635.9L1222.3,601.4L1223.4,774.1L1224.4,670.4L1225.5,566.8L1226.6,635.9L1227.7,635.9L1228.8,566.8L1229.9,635.9L1230.9,601.4L1232.0,635.9L1233.1,635.9L1234.2,601.4L1235.3,635.9L1236.4,601.4L1237.4,566.8L1239.6,566.8L1240.7,670.4L1241.8,774.1L1242.9,601.4L1243.9,670.4L1245.0,739.5L1246.1,705.0L1247.2,601.4L1248.3,601.4L1249.4,635.9L1250.5,739.5L1251.5,635.9L1252.6,601.4L1253.7,635.9L1254.8,670.4L1255.9,601.4L1257.0,635.9L1258.0,739.5L1259.1,566.8L1260.2,635.9L1261.3,808.6L1262.4,670.4L1263.5,566.8L1264.5,635.9L1265.6,635.9L1266.7,566.8L1267.8,635.9L1268.9,635.9L1270.0,774.1L1271.1,635.9L1272.1,601.4L1273.2,566.8L1274.3,601.4L1275.4,566.8L1276.5,601.4L1277.6,705.0L1278.6,601.4L1279.7,601.4L1280.8,635.9L1281.9,566.8L1283.0,739.5L1284.1,635.9L1285.1,635.9L1286.2,601.4L1287.3,705.0L1288.4,566.8L1289.5,635.9L1290.6,601.4L1291.6,774.1L1292.7,601.4L1293.8,635.9L1294.9,601.4L1296.0,739.5L1297.1,566.8L1298.2,635.9L1299.2,601.4L1300.3,705.0L1301.4,635.9L1302.5,670.4L1304.7,670.4L1305.7,635.9L1306.8,739.5L1307.9,635.9L1309.0,566.8L1310.1,601.4L1311.2,601.4L1312.2,774.1L1313.3,532.3L1314.4,635.9L1315.5,566.8L1316.6,635.9L1317.7,705.0L1318.8,566.8L1319.8,635.9L1320.9,566.8L1322.0,670.4L1323.1,601.4L1324.2,566.8L1325.3,635.9L1326.3,566.8L1327.4,532.3L1328.5,601.4L1329.6,635.9L1330.7,635.9L1331.8,601.4L1332.8,566.8L1333.9,739.5L1335.0,670.4L1336.1,601.4L1337.2,635.9L1338.3,497.8L1339.3,601.4L1340.4,601.4L1341.5,635.9L1342.6,566.8L1343.7,635.9L1344.8,532.3L1345.9,532.3L1346.9,635.9L1348.0,601.4L1349.1,635.9L1350.2,774.1L1351.3,670.4L1352.4,774.1L1353.4,601.4L1354.5,635.9L1355.6,774.1L1356.7,601.4L1357.8,463.2L1358.9,601.4L1359.9,670.4L1361.0,532.3L1362.1,601.4L1363.2,635.9L1364.3,635.9L1365.4,601.4L1366.5,566.8L1367.5,532.3L1368.6,566.8L1369.7,739.5L1370.8,566.8L1371.9,635.9L1373.0,601.4L1374.0,601.4L1375.1,670.4L1376.2,739.5L1377.3,566.8L1378.4,635.9L1379.5,635.9L1380.5,774.1L1381.6,635.9L1382.7,635.9L1383.8,497.8L1384.9,739.5L1386.0,705.0L1387.0,635.9L1388.1,670.4L1389.2,601.4L1390.3,566.8L1391.4,635.9L1392.5,601.4L1393.6,601.4L1394.6,670.4L1395.7,601.4L1396.8,670.4L1397.9,601.4L1399.0,566.8L1400.1,566.8L1401.1,532.3L1402.2,635.9L1403.3,601.4L1406.6,601.4L1407.6,635.9L1408.7,601.4L1409.8,532.3L1410.9,635.9L1412.0,497.8L1413.1,635.9L1414.2,635.9L1415.2,601.4L1416.3,601.4L1417.4,670.4L1418.5,739.5L1419.6,601.4L1420.7,635.9L1421.7,566.8L1422.8,601.4L1423.9,532.3L1425.0,566.8L1426.1,532.3L1427.2,670.4L1428.2,497.8L1429.3,566.8L1430.4,601.4L1431.5,774.1L1432.6,635.9L1434.7,635.9L1435.8,705.0L1436.9,566.8L1438.0,670.4L1439.1,635.9L1440.2,601.4L1441.3,635.9L1442.3,774.1L1443.4,601.4L1444.5,774.1L1445.6,635.9L1446.7,601.4L1447.8,635.9L1448.8,566.8L1449.9,601.4L1451.0,635.9L1453.2,635.9L1454.3,601.4L1455.3,566.8L1456.4,635.9L1457.5,635.9L1458.6,705.0L1459.7,739.5L1460.8,601.4L1461.9,532.3L1462.9,635.9L1464.0,601.4L1465.1,635.9L1466.2,601.4L1467.3,601.4L1468.4,705.0L1469.4,601.4L1470.5,601.4L1471.6,566.8L1472.7,635.9L1474.9,635.9L1475.9,566.8L1477.0,670.4L1478.1,601.4L1479.2,566.8L1480.3,566.8L1481.4,774.1L1482.4,705.0L1483.5,566.8L1484.6,497.8L1485.7,601.4L1487.9,601.4L1489.0,635.9L1490.0,601.4L1491.1,739.5L1492.2,497.8L1493.3,566.8L1494.4,532.3L1495.5,670.4L1496.5,705.0L1497.6,843.1L1498.7,601.4L1499.8,670.4L1500.9,635.9L1502.0,843.1L1503.0,635.9L1504.1,601.4L1506.3,601.4L1507.4,635.9L1508.5,877.7L1509.6,601.4L1511.7,601.4L1512.8,705.0L1513.9,601.4L1515.0,635.9L1516.1,601.4L1517.1,635.9L1518.2,601.4L1519.3,739.5L1520.4,497.8L1521.5,566.8L1522.6,601.4L1523.6,705.0L1524.7,601.4L1525.8,566.8L1526.9,635.9L1528.0,601.4L1529.1,808.6L1530.1,601.4L1531.2,635.9L1532.3,670.4L1533.4,601.4L1535.6,601.4L1536.7,635.9L1537.7,566.8L1538.8,601.4L1539.9,635.9L1541.0,774.1L1542.1,601.4L1544.2,601.4L1545.3,635.9L1546.4,670.4L1547.5,601.4L1548.6,635.9L1549.7,566.8L1550.7,635.9L1552.9,635.9L1554.0,601.4L1555.1,566.8L1556.2,566.8L1557.3,601.4L1558.3,635.9L1559.4,601.4L1560.5,635.9L1561.6,670.4L1562.7,705.0L1563.8,601.4L1567.0,601.4L1568.1,635.9L1569.2,670.4L1570.3,670.4L1571.3,601.4L1572.4,601.4L1573.5,566.8L1574.6,601.4L1575.7,566.8L1576.8,532.3L1577.8,601.4L1578.9,601.4L1580.0,566.8L1581.1,566.8L1582.2,601.4L1583.3,670.4L1584.4,601.4L1585.4,670.4L1586.5,635.9L1587.6,601.4L1588.7,670.4L1589.8,532.3L1590.9,566.8L1591.9,601.4L1594.1,601.4L1595.2,566.8L1596.3,601.4L1597.4,635.9L1598.4,601.4L1599.5,601.4L1600.6,635.9L1601.7,601.4L1602.8,497.8L1603.9,635.9L1605.0,635.9L1606.0,601.4L1607.1,601.4L1608.2,635.9L1609.3,566.8L1610.4,601.4L1611.5,670.4L1612.5,601.4L1613.6,566.8L1614.7,635.9L1615.8,635.9L1616.9,601.4L1618.0,566.8L1619.0,774.1L1620.1,601.4L1621.2,601.4L1622.3,635.9L1623.4,601.4L1624.5,532.3L1625.5,635.9L1627.7,635.9L1628.8,566.8L1629.9,601.4L1631.0,670.4L1632.1,601.4L1633.1,774.1L1634.2,774.1L1635.3,601.4L1636.4,601.4L1637.5,739.5L1638.6,566.8L1639.6,601.4L1640.7,601.4L1641.8,635.9L1642.9,635.9L1644.0,566.8L1645.1,566.8L1646.1,635.9L1648.3,635.9L1649.4,670.4L1650.5,635.9L1651.6,705.0L1652.7,497.8L1653.7,566.8L1654.8,532.3L1655.9,670.4L1657.0,670.4L1658.1,566.8L1659.2,601.4L1660.2,601.4L1661.3,670.4L1662.4,705.0L1663.5,601.4L1664.6,635.9L1665.7,601.4L1666.7,601.4L1667.8,670.4L1668.9,739.5L1670.0,566.8L1671.1,670.4L1672.2,601.4L1673.2,601.4L1674.3,566.8L1675.4,566.8L1676.5,739.5L1677.6,566.8L1678.7,635.9L1679.8,635.9L1680.8,566.8L1681.9,601.4L1683.0,601.4L1684.1,739.5L1685.2,601.4L1686.3,635.9L1687.3,601.4L1688.4,497.8L1689.5,601.4L1690.6,635.9L1691.7,635.9L1692.8,774.1L1693.8,566.8L1694.9,601.4L1696.0,566.8L1697.1,705.0L1698.2,463.2L1699.3,635.9L1700.4,670.4L1701.4,497.8L1702.5,635.9L1703.6,635.9L1704.7,601.4L1705.8,635.9L1706.9,601.4L1707.9,635.9L1709.0,705.0L1710.1,670.4L1711.2,635.9L1712.3,566.8L1713.4,566.8L1714.4,635.9L1715.5,601.4L1716.6,635.9L1717.7,601.4L1718.8,532.3L1719.9,566.8L1720.9,739.5L1722.0,566.8L1723.1,670.4L1724.2,601.4L1725.3,635.9L1726.4,601.4L1727.5,635.9L1728.5,635.9L1729.6,601.4L1730.7,774.1L1731.8,670.4L1732.9,601.4L1734.0,601.4L1735.0,635.9L1736.1,635.9L1737.2,601.4L1738.3,635.9L1739.4,635.9L1740.5,532.3L1741.5,601.4L1742.6,635.9L1743.7,808.6L1744.8,601.4L1748.1,601.4L1749.1,739.5L1750.2,497.8L1751.3,635.9L1752.4,635.9L1753.5,705.0L1754.6,601.4L1755.6,739.5L1756.7,532.3L1757.8,670.4L1758.9,635.9L1760.0,601.4L1761.1,635.9L1762.1,463.2L1763.2,705.0L1764.3,635.9L1766.5,635.9L1767.6,670.4L1768.6,705.0L1769.7,705.0L1770.8,843.1L1771.9,601.4L1773.0,705.0L1774.1,601.4L1775.2,566.8L1776.2,532.3L1777.3,566.8L1778.4,601.4L1779.5,635.9L1780.6,601.4L1781.7,739.5L1782.7,601.4L1783.8,601.4L1784.9,635.9L1786.0,635.9L1787.1,566.8L1788.2,670.4L1789.2,635.9L1790.3,635.9L1791.4,566.8L1792.5,635.9L1793.6,566.8L1794.7,635.9L1796.8,635.9L1797.9,808.6L1799.0,705.0L1800.1,463.2L1801.2,601.4L1802.3,670.4L1803.3,635.9L1805.5,635.9L1806.6,670.4L1807.7,635.9L1809.8,635.9L1810.9,670.4L1812.0,566.8L1813.1,635.9L1814.2,635.9L1815.3,739.5L1816.3,670.4L1817.4,601.4L1818.5,566.8L1819.6,705.0L1820.7,670.4L1821.8,601.4L1822.9,635.9L1823.9,635.9L1825.0,877.7L1826.1,601.4L1827.2,601.4L1828.3,635.9L1830.4,635.9L1831.5,601.4L1832.6,566.8L1833.7,463.2L1834.8,566.8L1835.9,670.4L1836.9,601.4L1838.0,601.4L1839.1,635.9L1840.2,670.4L1841.3,808.6L1842.4,670.4L1843.4,635.9L1844.5,601.4L1845.6,601.4L1846.7,635.9L1847.8,635.9L1848.9,566.8L1850.0,635.9L1851.0,601.4L1852.1,670.4L1853.2,566.8L1854.3,601.4L1855.4,601.4L1856.5,670.4L1857.5,601.4L1858.6,843.1L1859.7,601.4L1860.8,601.4L1861.9,635.9L1863.0,635.9L1864.0,601.4L1865.1,705.0L1866.2,635.9L1868.4,635.9L1869.5,566.8L1870.6,601.4L1871.6,635.9L1872.7,566.8L1873.8,566.8L1874.9,532.3L1876.0,635.9L1877.1,635.9L1878.1,739.5L1879.2,601.4L1880.3,601.4L1881.4,670.4L1882.5,566.8L1883.6,635.9L1884.6,635.9L1885.7,566.8L1886.8,670.4L1887.9,532.3L1889.0,601.4L1890.1,635.9L1891.1,705.0L1892.2,497.8L1893.3,601.4L1894.4,635.9L1895.5,601.4L1896.6,635.9L1897.7,566.8L1898.7,877.7L1899.8,601.4L1900.9,670.4L1902.0,601.4L1903.1,670.4L1904.2,566.8L1905.2,635.9L1906.3,635.9L1907.4,774.1L1908.5,635.9L1909.6,601.4L1910.7,635.9L1911.7,601.4L1912.8,670.4L1913.9,601.4L1915.0,601.4L1916.1,635.9L1917.2,601.4L1918.3,635.9L1919.3,566.8L1920.4,601.4L1921.5,601.4L1922.6,635.9L1923.7,601.4L1924.8,566.8L1925.8,670.4L1926.9,739.5L1928.0,670.4L1929.1,670.4L1930.2,601.4L1931.3,635.9L1932.3,601.4L1933.4,705.0L1934.5,497.8L1935.6,601.4L1936.7,566.8L1937.8,635.9L1938.8,774.1L1939.9,601.4L1941.0,635.9L1942.1,601.4L1943.2,497.8L1944.3,635.9L1945.4,601.4L1946.4,601.4L1947.5,705.0L1948.6,670.4L1949.7,739.5L1950.8,532.3L1951.9,705.0L1952.9,635.9L1954.0,566.8L1955.1,635.9L1956.2,705.0L1957.3,566.8L1958.4,635.9L1959.4,566.8L1960.5,635.9L1961.6,601.4L1962.7,774.1L1963.8,566.8L1964.9,566.8L1966.0,601.4L1967.0,566.8L1968.1,635.9L1969.2,635.9L1970.3,670.4L1971.4,601.4L1972.5,566.8L1973.5,601.4L1974.6,670.4L1975.7,774.1L1976.8,705.0L1977.9,532.3L1979.0,670.4L1980.0,635.9L1981.1,532.3L1982.2,635.9L1983.3,635.9L1984.4,739.5L1985.5,705.0L1986.5,601.4L1987.6,739.5L1988.7,635.9L1992.0,635.9L1993.1,566.8L1994.1,670.4L1995.2,532.3L1996.3,739.5L1997.4,601.4L1998.5,670.4L1999.6,635.9L2000.6,601.4L2001.7,635.9L2002.8,739.5L2003.9,601.4L2005.0,635.9L2006.1,566.8L2007.1,601.4L2008.2,635.9L2009.3,532.3L2010.4,532.3L2011.5,601.4L2012.6,601.4L2013.7,635.9L2014.7,635.9L2015.8,601.4L2018.0,601.4L2019.1,635.9L2020.2,739.5L2021.2,601.4L2022.3,601.4L2023.4,635.9L2026.7,635.9L2027.7,601.4L2028.8,635.9L2029.9,774.1L2031.0,635.9L2032.1,601.4L2033.2,566.8L2034.2,601.4L2035.3,566.8L2036.4,635.9L2037.5,566.8L2038.6,670.4L2039.7,635.9L2040.8,705.0L2041.8,566.8L2042.9,601.4L2044.0,670.4L2045.1,670.4L2046.2,635.9L2047.3,566.8L2048.3,635.9L2049.4,705.0L2050.5,670.4L2051.6,601.4L2052.7,532.3L2053.8,601.4L2054.8,635.9L2057.0,635.9L2058.1,601.4L2059.2,670.4L2060.3,601.4L2061.4,601.4L2062.4,497.8L2063.5,635.9L2064.6,808.6L2065.7,601.4L2066.8,635.9L2067.9,601.4L2072.2,601.4L2073.3,739.5L2074.4,670.4L2075.4,601.4L2076.5,635.9L2077.6,497.8L2078.7,635.9L2079.8,566.8L2080.9,635.9L2081.9,601.4L2083.0,808.6L2084.1,635.9L2085.2,601.4L2086.3,635.9L2087.4,670.4L2088.5,774.1L2089.5,566.8L2090.6,601.4L2091.7,670.4L2092.8,635.9L2093.9,601.4L2095.0,601.4L2096.0,705.0L2097.1,566.8L2098.2,601.4L2102.5,601.4L2103.6,670.4L2104.7,635.9L2105.8,601.4L2106.9,497.8L2108.0,601.4L2109.1,601.4L2110.1,532.3L2111.2,670.4L2112.3,635.9L2113.4,601.4L2114.5,739.5L2115.6,601.4L2116.6,428.7L2117.7,635.9L2118.8,566.8L2119.9,670.4L2121.0,635.9L2122.1,566.8L2123.1,601.4L2124.2,635.9L2125.3,532.3L2126.4,670.4L2127.5,635.9L2128.6,601.4L2129.6,601.4L2130.7,670.4L2131.8,601.4L2132.9,532.3L2134.0,670.4L2135.1,601.4L2136.2,635.9L2137.2,566.8L2138.3,566.8L2139.4,705.0L2140.5,635.9L2141.6,670.4L2142.7,635.9L2143.7,635.9L2144.8,497.8L2145.9,601.4L2147.0,601.4L2148.1,635.9L2149.2,566.8L2150.2,705.0L2151.3,566.8L2152.4,566.8L2153.5,635.9L2154.6,670.4L2155.7,635.9L2156.8,705.0L2157.8,670.4L2158.9,566.8L2160.0,601.4L2161.1,843.1L2162.2,601.4L2163.3,670.4L2164.3,601.4L2166.5,601.4L2167.6,670.4L2168.7,601.4L2169.8,601.4L2170.8,774.1L2171.9,670.4L2173.0,601.4L2174.1,635.9L2175.2,705.0L2176.3,601.4L2177.3,601.4L2178.4,635.9L2179.5,705.0L2180.6,670.4L2181.7,497.8L2182.8,635.9L2183.9,635.9L2184.9,532.3L2186.0,635.9L2187.1,635.9L2188.2,670.4L2189.3,635.9L2190.4,670.4L2191.4,635.9L2192.5,566.8L2193.6,566.8L2194.7,601.4L2199.0,601.4L2200.1,635.9L2201.2,601.4L2202.3,532.3L2203.4,532.3L2204.5,670.4L2205.5,739.5L2206.6,635.9L2207.7,635.9L2208.8,601.4L2209.9,497.8L2211.0,635.9L2212.0,670.4L2213.1,635.9L2214.2,601.4L2215.3,566.8L2216.4,739.5L2217.5,635.9L2218.5,566.8L2219.6,601.4L2220.7,635.9L2221.8,532.3L2222.9,635.9L2224.0,774.1L2225.0,635.9L2226.1,843.1L2227.2,497.8L2228.3,532.3L2229.4,635.9L2230.5,601.4L2231.6,601.4L2232.6,635.9L2233.7,670.4L2234.8,532.3L2235.9,601.4L2237.0,670.4L2238.1,601.4L2239.1,566.8L2240.2,532.3L2241.3,635.9L2242.4,601.4L2243.5,601.4L2244.6,774.1L2245.6,566.8L2246.7,670.4L2247.8,601.4L2248.9,532.3L2250.0,566.8L2251.1,877.7L2252.2,635.9L2253.2,670.4L2254.3,635.9L2255.4,670.4L2256.5,601.4L2257.6,532.3L2258.7,635.9L2259.7,774.1L2260.8,774.1L2261.9,601.4L2263.0,670.4L2264.1,877.7L2265.2,601.4L2266.2,532.3L2267.3,601.4L2268.4,635.9L2269.5,601.4L2271.7,601.4L2272.7,670.4L2273.8,670.4L2274.9,566.8L2276.0,808.6" stroke="#74adf5" stroke-width="4" stroke-linejoin="round"/><path d="M716.0,877.7L717.1,566.8L718.2,601.4L719.3,635.9L720.3,635.9L721.4,532.3L722.5,532.3L723.6,601.4L725.8,601.4L726.8,635.9L727.9,601.4L729.0,635.9L730.1,670.4L731.2,670.4L732.3,566.8L733.3,497.8L734.4,601.4L736.6,601.4L737.7,705.0L738.8,635.9L739.8,635.9L740.9,601.4L742.0,566.8L743.1,601.4L746.4,601.4L747.4,739.5L748.5,566.8L749.6,739.5L750.7,532.3L751.8,601.4L752.9,601.4L753.9,635.9L755.0,532.3L756.1,601.4L757.2,566.8L758.3,566.8L759.4,635.9L760.4,670.4L761.5,635.9L762.6,635.9L763.7,601.4L764.8,739.5L765.9,635.9L767.0,497.8L768.0,635.9L769.1,601.4L770.2,705.0L771.3,774.1L772.4,635.9L773.5,774.1L774.5,635.9L775.6,601.4L776.7,566.8L777.8,774.1L778.9,670.4L780.0,670.4L781.0,601.4L782.1,635.9L783.2,705.0L784.3,635.9L785.4,601.4L786.5,739.5L787.5,670.4L788.6,601.4L789.7,670.4L790.8,566.8L791.9,808.6L793.0,774.1L794.1,566.8L795.1,566.8L796.2,808.6L797.3,670.4L798.4,808.6L799.5,705.0L800.6,670.4L801.6,601.4L802.7,635.9L803.8,739.5L804.9,635.9L806.0,739.5L807.1,635.9L808.1,566.8L809.2,601.4L810.3,635.9L811.4,670.4L812.5,670.4L813.6,635.9L816.8,635.9L817.9,601.4L819.0,739.5L820.1,566.8L821.2,601.4L822.2,601.4L823.3,566.8L824.4,601.4L825.5,532.3L826.6,635.9L827.7,566.8L828.7,601.4L829.8,635.9L832.0,635.9L833.1,670.4L834.2,739.5L835.2,601.4L836.3,670.4L837.4,566.8L838.5,566.8L839.6,670.4L840.7,601.4L841.8,601.4L842.8,566.8L843.9,601.4L845.0,566.8L846.1,635.9L847.2,635.9L848.3,601.4L849.3,635.9L850.4,635.9L851.5,601.4L852.6,670.4L853.7,635.9L856.9,635.9L858.0,601.4L859.1,635.9L860.2,601.4L861.3,635.9L862.4,601.4L863.4,635.9L864.5,635.9L865.6,532.3L866.7,532.3L867.8,635.9L873.2,635.9L874.3,601.4L875.4,739.5L876.4,774.1L877.5,566.8L878.6,705.0L879.7,635.9L880.8,566.8L881.9,566.8L882.9,670.4L884.0,601.4L886.2,601.4L887.3,566.8L888.4,635.9L889.5,601.4L890.5,635.9L891.6,601.4L892.7,808.6L893.8,601.4L894.9,670.4L896.0,601.4L897.0,635.9L898.1,601.4L899.2,670.4L900.3,463.2L901.4,601.4L902.5,808.6L903.5,532.3L904.6,635.9L905.7,774.1L906.8,532.3L907.9,601.4L909.0,739.5L910.1,739.5L911.1,601.4L912.2,635.9L913.3,635.9L914.4,670.4L915.5,670.4L916.6,635.9L917.6,877.7L918.7,635.9L919.8,601.4L920.9,774.1L922.0,635.9L923.1,739.5L924.1,532.3L925.2,670.4L926.3,601.4L927.4,670.4L928.5,739.5L929.6,601.4L930.6,774.1L931.7,635.9L932.8,601.4L933.9,739.5L935.0,739.5L936.1,601.4L937.2,635.9L938.2,566.8L939.3,635.9L940.4,635.9L941.5,532.3L942.6,601.4L943.7,739.5L944.7,635.9L945.8,739.5L946.9,601.4L948.0,739.5L949.1,566.8L950.2,532.3L951.2,635.9L952.3,532.3L953.4,601.4L954.5,635.9L955.6,566.8L956.7,670.4L957.8,601.4L958.8,601.4L959.9,670.4L961.0,635.9L962.1,601.4L963.2,739.5L964.3,601.4L965.3,635.9L966.4,670.4L967.5,670.4L968.6,601.4L969.7,566.8L970.8,670.4L971.8,739.5L972.9,601.4L974.0,635.9L975.1,601.4L976.2,670.4L977.3,532.3L978.3,635.9L979.4,566.8L980.5,532.3L981.6,532.3L982.7,601.4L983.8,635.9L985.9,635.9L987.0,774.1L988.1,635.9L989.2,601.4L990.3,739.5L991.4,739.5L992.4,705.0L993.5,566.8L994.6,566.8L995.7,532.3L996.8,601.4L997.9,635.9L998.9,601.4L1000.0,774.1L1001.1,532.3L1002.2,635.9L1003.3,670.4L1004.4,566.8L1005.5,635.9L1006.5,601.4L1007.6,601.4L1008.7,635.9L1009.8,497.8L1010.9,739.5L1012.0,601.4L1013.0,670.4L1014.1,601.4L1019.5,601.4L1020.6,497.8L1021.7,566.8L1022.8,670.4L1023.9,566.8L1025.0,739.5L1026.0,532.3L1027.1,635.9L1028.2,739.5L1029.3,670.4L1030.4,670.4L1031.5,635.9L1032.6,601.4L1033.6,635.9L1035.8,635.9L1036.9,601.4L1038.0,670.4L1039.1,601.4L1040.1,532.3L1041.2,635.9L1042.3,497.8L1043.4,601.4L1044.5,566.8L1045.6,635.9L1046.6,739.5L1047.7,601.4L1048.8,705.0L1049.9,635.9L1051.0,566.8L1052.1,566.8L1053.2,774.1L1054.2,774.1L1055.3,601.4L1056.4,705.0L1057.5,601.4L1058.6,566.8L1059.7,601.4L1060.7,670.4L1061.8,566.8L1062.9,601.4L1066.2,601.4L1067.2,635.9L1068.3,601.4L1069.4,601.4L1070.5,670.4L1071.6,635.9L1072.7,635.9L1073.7,601.4L1074.8,601.4L1075.9,635.9L1077.0,635.9L1078.1,601.4L1079.2,497.8L1080.3,566.8L1081.3,532.3L1082.4,601.4L1083.5,601.4L1084.6,635.9L1085.7,739.5L1086.8,670.4L1087.8,532.3L1088.9,670.4L1090.0,635.9L1091.1,566.8L1092.2,566.8L1093.3,601.4L1094.3,635.9L1095.4,843.1L1096.5,670.4L1097.6,566.8L1098.7,497.8L1099.8,635.9L1101.9,635.9L1103.0,739.5L1104.1,705.0L1105.2,635.9L1106.3,601.4L1107.4,635.9L1108.4,601.4L1109.5,601.4L1110.6,739.5L1111.7,601.4L1113.9,601.4L1114.9,635.9L1116.0,670.4L1117.1,601.4L1118.2,670.4L1119.3,601.4L1120.4,670.4L1121.4,635.9L1122.5,705.0L1123.6,601.4L1124.7,635.9L1125.8,635.9L1126.9,601.4L1128.0,601.4L1129.0,635.9L1130.1,670.4L1131.2,670.4L1132.3,739.5L1133.4,532.3L1134.5,566.8L1135.5,566.8L1136.6,601.4L1137.7,774.1L1138.8,635.9L1141.0,635.9L1142.0,739.5L1143.1,601.4L1144.2,635.9L1145.3,601.4L1146.4,601.4L1147.5,566.8L1148.6,705.0L1149.6,739.5L1150.7,635.9L1151.8,601.4L1152.9,670.4L1154.0,601.4L1155.1,635.9L1156.1,601.4L1157.2,635.9L1158.3,739.5L1159.4,635.9L1160.5,635.9L1161.6,670.4L1162.6,705.0L1163.7,635.9L1164.8,705.0L1165.9,566.8L1167.0,601.4L1168.1,532.3L1169.1,601.4L1171.3,601.4L1172.4,635.9L1173.5,566.8L1174.6,601.4L1175.7,566.8L1176.7,428.7L1177.8,635.9L1178.9,601.4L1180.0,635.9L1181.1,601.4L1182.2,601.4L1183.2,635.9L1184.3,739.5L1185.4,566.8L1186.5,601.4L1187.6,635.9L1188.7,532.3L1189.7,532.3L1190.8,497.8L1191.9,635.9L1193.0,601.4L1194.1,635.9L1195.2,601.4L1196.3,635.9L1197.3,601.4L1198.4,635.9L1199.5,635.9L1200.6,566.8L1201.7,566.8L1202.8,635.9L1203.8,635.9L1204.9,601.4L1206.0,635.9L1207.1,635.9L1208.2,670.4L1209.3,635.9L1210.3,635.9L1211.4,601.4L1212.5,774.1L1213.6,601.4L1214.7,566.8L1215.8,532.3L1216.8,635.9L1217.9,497.8L1219.0,635.9L1221.2,635.9L1222.3,601.4L1223.4,774.1L1224.4,670.4L1225.5,566.8L1226.6,635.9L1227.7,635.9L1228.8,566.8L1229.9,635.9L1230.9,601.4L1232.0,635.9L1233.1,635.9L1234.2,601.4L1235.3,635.9L1236.4,601.4L1237.4,566.8L1239.6,566.8L1240.7,705.0L1241.8,774.1L1242.9,601.4L1243.9,670.4L1245.0,739.5L1246.1,705.0L1247.2,601.4L1248.3,601.4L1249.4,635.9L1250.5,739.5L1251.5,635.9L1252.6,601.4L1253.7,635.9L1254.8,705.0L1255.9,601.4L1257.0,635.9L1258.0,739.5L1259.1,601.4L1260.2,635.9L1261.3,808.6L1262.4,705.0L1263.5,566.8L1264.5,635.9L1265.6,635.9L1266.7,566.8L1267.8,635.9L1268.9,635.9L1270.0,774.1L1271.1,635.9L1272.1,601.4L1273.2,566.8L1274.3,635.9L1275.4,566.8L1276.5,601.4L1277.6,705.0L1278.6,601.4L1279.7,601.4L1280.8,635.9L1281.9,601.4L1283.0,739.5L1284.1,635.9L1285.1,635.9L1286.2,601.4L1287.3,739.5L1288.4,566.8L1289.5,635.9L1290.6,601.4L1291.6,774.1L1292.7,601.4L1293.8,635.9L1294.9,601.4L1296.0,739.5L1297.1,601.4L1298.2,635.9L1299.2,601.4L1300.3,705.0L1301.4,635.9L1302.5,670.4L1303.6,705.0L1304.7,670.4L1305.7,635.9L1306.8,739.5L1307.9,635.9L1309.0,566.8L1310.1,601.4L1311.2,601.4L1312.2,774.1L1313.3,532.3L1314.4,635.9L1315.5,566.8L1316.6,635.9L1317.7,705.0L1318.8,566.8L1319.8,670.4L1320.9,566.8L1322.0,705.0L1323.1,601.4L1324.2,566.8L1325.3,635.9L1326.3,566.8L1327.4,532.3L1328.5,601.4L1329.6,635.9L1330.7,635.9L1331.8,601.4L1332.8,566.8L1333.9,739.5L1335.0,670.4L1336.1,601.4L1337.2,635.9L1338.3,532.3L1339.3,601.4L1340.4,601.4L1341.5,635.9L1342.6,566.8L1343.7,635.9L1344.8,532.3L1345.9,532.3L1346.9,670.4L1348.0,601.4L1349.1,635.9L1350.2,774.1L1351.3,670.4L1352.4,774.1L1353.4,601.4L1354.5,635.9L1355.6,774.1L1356.7,601.4L1357.8,463.2L1358.9,601.4L1359.9,670.4L1361.0,532.3L1362.1,601.4L1363.2,635.9L1364.3,635.9L1365.4,601.4L1366.5,601.4L1367.5,566.8L1368.6,566.8L1369.7,739.5L1370.8,566.8L1371.9,635.9L1373.0,601.4L1374.0,601.4L1375.1,670.4L1376.2,739.5L1377.3,566.8L1378.4,635.9L1379.5,635.9L1380.5,774.1L1381.6,635.9L1382.7,635.9L1383.8,497.8L1384.9,739.5L1386.0,705.0L1387.0,635.9L1388.1,670.4L1389.2,601.4L1390.3,566.8L1391.4,635.9L1392.5,601.4L1393.6,601.4L1394.6,670.4L1395.7,601.4L1396.8,670.4L1397.9,601.4L1399.0,566.8L1401.1,566.8L1402.2,635.9L1403.3,601.4L1406.6,601.4L1407.6,635.9L1408.7,601.4L1409.8,532.3L1410.9,635.9L1412.0,532.3L1413.1,635.9L1414.2,635.9L1415.2,601.4L1416.3,601.4L1417.4,670.4L1418.5,739.5L1419.6,601.4L1420.7,635.9L1421.7,566.8L1422.8,601.4L1423.9,532.3L1425.0,566.8L1426.1,532.3L1427.2,670.4L1428.2,497.8L1429.3,566.8L1430.4,635.9L1431.5,774.1L1432.6,635.9L1433.7,635.9L1434.7,670.4L1435.8,705.0L1436.9,566.8L1438.0,705.0L1439.1,635.9L1440.2,601.4L1441.3,635.9L1442.3,774.1L1443.4,601.4L1444.5,774.1L1445.6,635.9L1446.7,601.4L1447.8,635.9L1448.8,566.8L1449.9,601.4L1451.0,635.9L1453.2,635.9L1454.3,601.4L1455.3,566.8L1456.4,635.9L1457.5,635.9L1458.6,705.0L1459.7,739.5L1460.8,601.4L1461.9,532.3L1462.9,635.9L1464.0,601.4L1465.1,635.9L1466.2,601.4L1467.3,601.4L1468.4,705.0L1469.4,601.4L1470.5,601.4L1471.6,566.8L1472.7,635.9L1474.9,635.9L1475.9,566.8L1477.0,670.4L1478.1,601.4L1479.2,566.8L1480.3,566.8L1481.4,774.1L1482.4,739.5L1483.5,566.8L1484.6,497.8L1485.7,601.4L1487.9,601.4L1489.0,635.9L1490.0,601.4L1491.1,739.5L1492.2,497.8L1493.3,566.8L1494.4,532.3L1495.5,670.4L1496.5,705.0L1497.6,843.1L1498.7,601.4L1499.8,670.4L1500.9,635.9L1502.0,843.1L1503.0,635.9L1504.1,635.9L1505.2,601.4L1506.3,601.4L1507.4,635.9L1508.5,877.7L1509.6,601.4L1511.7,601.4L1512.8,705.0L1513.9,601.4L1515.0,635.9L1516.1,601.4L1517.1,635.9L1518.2,601.4L1519.3,739.5L1520.4,532.3L1521.5,566.8L1522.6,601.4L1523.6,705.0L1524.7,601.4L1525.8,566.8L1526.9,635.9L1528.0,601.4L1529.1,808.6L1530.1,601.4L1531.2,635.9L1532.3,670.4L1533.4,601.4L1534.5,635.9L1535.6,601.4L1536.7,635.9L1537.7,566.8L1538.8,601.4L1539.9,635.9L1541.0,774.1L1542.1,601.4L1544.2,601.4L1545.3,635.9L1546.4,670.4L1547.5,601.4L1548.6,635.9L1549.7,566.8L1550.7,635.9L1552.9,635.9L1554.0,601.4L1555.1,566.8L1556.2,566.8L1557.3,601.4L1558.3,635.9L1559.4,601.4L1560.5,635.9L1561.6,670.4L1562.7,705.0L1563.8,635.9L1564.8,601.4L1567.0,601.4L1568.1,635.9L1569.2,670.4L1570.3,670.4L1571.3,601.4L1572.4,601.4L1573.5,566.8L1574.6,601.4L1575.7,566.8L1576.8,532.3L1577.8,601.4L1580.0,601.4L1581.1,566.8L1582.2,601.4L1583.3,670.4L1584.4,601.4L1585.4,670.4L1586.5,635.9L1587.6,601.4L1588.7,670.4L1589.8,532.3L1590.9,566.8L1591.9,601.4L1594.1,601.4L1595.2,566.8L1596.3,601.4L1597.4,635.9L1598.4,601.4L1599.5,601.4L1600.6,635.9L1601.7,601.4L1602.8,497.8L1603.9,635.9L1605.0,635.9L1606.0,601.4L1607.1,601.4L1608.2,635.9L1609.3,566.8L1610.4,601.4L1611.5,670.4L1612.5,601.4L1613.6,566.8L1614.7,635.9L1615.8,635.9L1616.9,601.4L1618.0,566.8L1619.0,774.1L1620.1,601.4L1621.2,601.4L1622.3,635.9L1623.4,601.4L1624.5,566.8L1625.5,635.9L1627.7,635.9L1628.8,566.8L1629.9,601.4L1631.0,670.4L1632.1,601.4L1633.1,774.1L1634.2,774.1L1635.3,601.4L1636.4,601.4L1637.5,739.5L1638.6,566.8L1639.6,601.4L1640.7,601.4L1641.8,635.9L1642.9,635.9L1644.0,566.8L1645.1,566.8L1646.1,635.9L1648.3,635.9L1649.4,670.4L1650.5,635.9L1651.6,705.0L1652.7,497.8L1653.7,566.8L1654.8,532.3L1655.9,670.4L1657.0,670.4L1658.1,601.4L1660.2,601.4L1661.3,670.4L1662.4,705.0L1663.5,601.4L1664.6,635.9L1665.7,601.4L1666.7,601.4L1667.8,670.4L1668.9,739.5L1670.0,566.8L1671.1,670.4L1672.2,601.4L1673.2,601.4L1674.3,566.8L1675.4,566.8L1676.5,774.1L1677.6,566.8L1678.7,670.4L1679.8,635.9L1680.8,566.8L1681.9,601.4L1683.0,601.4L1684.1,739.5L1685.2,601.4L1686.3,635.9L1687.3,601.4L1688.4,497.8L1689.5,601.4L1690.6,635.9L1691.7,635.9L1692.8,774.1L1693.8,566.8L1694.9,601.4L1696.0,566.8L1697.1,705.0L1698.2,463.2L1699.3,635.9L1700.4,670.4L1701.4,497.8L1702.5,635.9L1703.6,635.9L1704.7,601.4L1705.8,635.9L1706.9,601.4L1707.9,635.9L1709.0,705.0L1710.1,670.4L1711.2,635.9L1712.3,566.8L1713.4,566.8L1714.4,635.9L1715.5,601.4L1716.6,635.9L1717.7,601.4L1718.8,532.3L1719.9,566.8L1720.9,739.5L1722.0,566.8L1723.1,670.4L1724.2,601.4L1725.3,635.9L1726.4,601.4L1727.5,635.9L1728.5,635.9L1729.6,601.4L1730.7,774.1L1731.8,670.4L1732.9,601.4L1734.0,601.4L1735.0,635.9L1736.1,635.9L1737.2,601.4L1738.3,635.9L1739.4,635.9L1740.5,532.3L1741.5,635.9L1742.6,635.9L1743.7,808.6L1744.8,635.9L1745.9,601.4L1748.1,601.4L1749.1,739.5L1750.2,497.8L1751.3,635.9L1752.4,635.9L1753.5,705.0L1754.6,601.4L1755.6,739.5L1756.7,532.3L1757.8,670.4L1758.9,635.9L1760.0,601.4L1761.1,635.9L1762.1,463.2L1763.2,705.0L1764.3,635.9L1766.5,635.9L1767.6,670.4L1768.6,705.0L1769.7,705.0L1770.8,843.1L1771.9,601.4L1773.0,705.0L1774.1,601.4L1775.2,566.8L1776.2,532.3L1777.3,566.8L1778.4,635.9L1779.5,635.9L1780.6,601.4L1781.7,739.5L1782.7,601.4L1783.8,601.4L1784.9,635.9L1786.0,635.9L1787.1,566.8L1788.2,670.4L1789.2,635.9L1790.3,635.9L1791.4,601.4L1792.5,635.9L1793.6,566.8L1794.7,635.9L1796.8,635.9L1797.9,843.1L1799.0,705.0L1800.1,463.2L1801.2,601.4L1802.3,705.0L1803.3,635.9L1805.5,635.9L1806.6,670.4L1807.7,635.9L1809.8,635.9L1810.9,670.4L1812.0,566.8L1813.1,635.9L1814.2,635.9L1815.3,739.5L1816.3,670.4L1817.4,601.4L1818.5,566.8L1819.6,739.5L1820.7,670.4L1821.8,601.4L1822.9,635.9L1823.9,635.9L1825.0,877.7L1826.1,601.4L1827.2,601.4L1828.3,635.9L1830.4,635.9L1831.5,601.4L1832.6,566.8L1833.7,463.2L1834.8,566.8L1835.9,670.4L1836.9,601.4L1838.0,601.4L1839.1,635.9L1840.2,670.4L1841.3,808.6L1842.4,670.4L1843.4,635.9L1844.5,601.4L1845.6,601.4L1846.7,635.9L1847.8,635.9L1848.9,566.8L1850.0,635.9L1851.0,601.4L1852.1,670.4L1853.2,566.8L1854.3,601.4L1855.4,601.4L1856.5,670.4L1857.5,601.4L1858.6,843.1L1859.7,601.4L1860.8,601.4L1861.9,635.9L1864.0,635.9L1865.1,705.0L1866.2,635.9L1868.4,635.9L1869.5,566.8L1870.6,635.9L1871.6,635.9L1872.7,566.8L1873.8,566.8L1874.9,532.3L1876.0,635.9L1877.1,635.9L1878.1,739.5L1879.2,601.4L1880.3,601.4L1881.4,670.4L1882.5,566.8L1883.6,635.9L1884.6,635.9L1885.7,566.8L1886.8,670.4L1887.9,566.8L1889.0,601.4L1890.1,635.9L1891.1,705.0L1892.2,497.8L1893.3,635.9L1894.4,635.9L1895.5,601.4L1896.6,635.9L1897.7,566.8L1898.7,877.7L1899.8,601.4L1900.9,670.4L1902.0,601.4L1903.1,670.4L1904.2,566.8L1905.2,635.9L1906.3,635.9L1907.4,774.1L1908.5,635.9L1909.6,601.4L1910.7,635.9L1911.7,601.4L1912.8,670.4L1913.9,601.4L1915.0,601.4L1916.1,635.9L1917.2,601.4L1918.3,635.9L1919.3,566.8L1920.4,601.4L1921.5,601.4L1922.6,635.9L1923.7,601.4L1924.8,566.8L1925.8,670.4L1926.9,739.5L1928.0,670.4L1929.1,670.4L1930.2,601.4L1931.3,635.9L1932.3,601.4L1933.4,705.0L1934.5,497.8L1935.6,601.4L1936.7,566.8L1937.8,635.9L1938.8,774.1L1939.9,601.4L1941.0,635.9L1942.1,601.4L1943.2,497.8L1944.3,635.9L1945.4,601.4L1946.4,601.4L1947.5,705.0L1948.6,670.4L1949.7,739.5L1950.8,532.3L1951.9,705.0L1952.9,635.9L1954.0,566.8L1955.1,635.9L1956.2,705.0L1957.3,566.8L1958.4,635.9L1959.4,566.8L1960.5,635.9L1961.6,601.4L1962.7,774.1L1963.8,566.8L1964.9,566.8L1966.0,635.9L1967.0,566.8L1968.1,635.9L1969.2,635.9L1970.3,670.4L1971.4,601.4L1972.5,566.8L1973.5,601.4L1974.6,670.4L1975.7,774.1L1976.8,705.0L1977.9,532.3L1979.0,670.4L1980.0,635.9L1981.1,532.3L1982.2,635.9L1983.3,635.9L1984.4,739.5L1985.5,705.0L1986.5,601.4L1987.6,739.5L1988.7,635.9L1992.0,635.9L1993.1,566.8L1994.1,670.4L1995.2,532.3L1996.3,739.5L1997.4,635.9L1998.5,670.4L1999.6,635.9L2000.6,601.4L2001.7,635.9L2002.8,739.5L2003.9,601.4L2005.0,635.9L2006.1,566.8L2007.1,601.4L2008.2,670.4L2009.3,532.3L2010.4,532.3L2011.5,601.4L2012.6,601.4L2013.7,635.9L2014.7,635.9L2015.8,601.4L2018.0,601.4L2019.1,635.9L2020.2,739.5L2021.2,601.4L2022.3,601.4L2023.4,635.9L2026.7,635.9L2027.7,601.4L2028.8,635.9L2029.9,774.1L2031.0,635.9L2032.1,601.4L2033.2,566.8L2034.2,601.4L2035.3,566.8L2036.4,635.9L2037.5,566.8L2038.6,670.4L2039.7,635.9L2040.8,705.0L2041.8,566.8L2042.9,601.4L2044.0,670.4L2045.1,670.4L2046.2,635.9L2047.3,566.8L2048.3,635.9L2049.4,705.0L2050.5,670.4L2051.6,601.4L2052.7,566.8L2053.8,601.4L2054.8,635.9L2057.0,635.9L2058.1,601.4L2059.2,670.4L2060.3,601.4L2061.4,601.4L2062.4,497.8L2063.5,635.9L2064.6,808.6L2065.7,601.4L2066.8,635.9L2067.9,601.4L2072.2,601.4L2073.3,739.5L2074.4,670.4L2075.4,601.4L2076.5,635.9L2077.6,497.8L2078.7,670.4L2079.8,566.8L2080.9,635.9L2081.9,601.4L2083.0,808.6L2084.1,635.9L2085.2,601.4L2086.3,635.9L2087.4,670.4L2088.5,774.1L2089.5,566.8L2090.6,635.9L2091.7,670.4L2092.8,635.9L2093.9,601.4L2095.0,601.4L2096.0,705.0L2097.1,566.8L2098.2,601.4L2102.5,601.4L2103.6,670.4L2104.7,635.9L2105.8,601.4L2106.9,497.8L2108.0,601.4L2109.1,601.4L2110.1,532.3L2111.2,705.0L2112.3,635.9L2113.4,601.4L2114.5,739.5L2115.6,601.4L2116.6,428.7L2117.7,635.9L2118.8,566.8L2119.9,705.0L2121.0,635.9L2122.1,566.8L2123.1,635.9L2124.2,635.9L2125.3,566.8L2126.4,670.4L2127.5,635.9L2128.6,601.4L2129.6,601.4L2130.7,670.4L2131.8,601.4L2132.9,532.3L2134.0,705.0L2135.1,601.4L2136.2,635.9L2137.2,566.8L2138.3,566.8L2139.4,705.0L2140.5,635.9L2141.6,670.4L2142.7,635.9L2143.7,635.9L2144.8,497.8L2145.9,601.4L2147.0,601.4L2148.1,635.9L2149.2,566.8L2150.2,705.0L2151.3,566.8L2152.4,566.8L2153.5,635.9L2154.6,670.4L2155.7,635.9L2156.8,705.0L2157.8,670.4L2158.9,566.8L2160.0,601.4L2161.1,843.1L2162.2,601.4L2163.3,670.4L2164.3,601.4L2166.5,601.4L2167.6,670.4L2168.7,635.9L2169.8,601.4L2170.8,774.1L2171.9,670.4L2173.0,601.4L2174.1,635.9L2175.2,705.0L2176.3,601.4L2177.3,601.4L2178.4,670.4L2179.5,705.0L2180.6,670.4L2181.7,497.8L2182.8,635.9L2183.9,635.9L2184.9,532.3L2186.0,635.9L2187.1,635.9L2188.2,670.4L2189.3,635.9L2190.4,670.4L2191.4,635.9L2192.5,566.8L2193.6,566.8L2194.7,635.9L2195.8,601.4L2199.0,601.4L2200.1,635.9L2201.2,601.4L2202.3,532.3L2203.4,532.3L2204.5,670.4L2205.5,739.5L2206.6,635.9L2207.7,635.9L2208.8,601.4L2209.9,497.8L2211.0,635.9L2212.0,670.4L2213.1,635.9L2214.2,601.4L2215.3,566.8L2216.4,739.5L2217.5,635.9L2218.5,566.8L2219.6,601.4L2220.7,635.9L2221.8,532.3L2222.9,635.9L2224.0,774.1L2225.0,635.9L2226.1,843.1L2227.2,497.8L2228.3,532.3L2229.4,635.9L2230.5,635.9L2231.6,601.4L2232.6,635.9L2233.7,670.4L2234.8,532.3L2235.9,601.4L2237.0,670.4L2238.1,601.4L2239.1,566.8L2240.2,532.3L2241.3,635.9L2242.4,601.4L2243.5,601.4L2244.6,774.1L2245.6,566.8L2246.7,670.4L2247.8,601.4L2248.9,532.3L2250.0,566.8L2251.1,877.7L2252.2,635.9L2253.2,670.4L2254.3,635.9L2255.4,670.4L2256.5,601.4L2257.6,532.3L2258.7,635.9L2259.7,774.1L2260.8,774.1L2261.9,601.4L2263.0,670.4L2264.1,877.7L2265.2,601.4L2266.2,532.3L2267.3,601.4L2268.4,635.9L2269.5,601.4L2271.7,601.4L2272.7,670.4L2273.8,670.4L2274.9,566.8L2276.0,808.6" stroke="#6fd08c" stroke-width="4" stroke-linejoin="round"/><path d="M716.0,774.1H2276.0" stroke="#ffffff" stroke-opacity=".05" stroke-width="2"/><path d="M716.0,912.2H2276.0M753.9,912.2v-34.5M757.2,912.2v-34.5M762.6,912.2v-34.5M772.4,912.2v-34.5M807.1,912.2v-34.5M808.1,912.2v-34.5M830.9,912.2v-34.5M832.0,912.2v-34.5M872.1,912.2v-34.5M877.5,912.2v-34.5M887.3,912.2v-34.5M940.4,912.2v-69.1M946.9,912.2v-34.5M961.0,912.2v-34.5M965.3,912.2v-34.5M978.3,912.2v-34.5M982.7,912.2v-34.5M984.9,912.2v-34.5M991.4,912.2v-34.5M1000.0,912.2v-34.5M1025.0,912.2v-34.5M1033.6,912.2v-34.5M1044.5,912.2v-34.5M1068.3,912.2v-34.5M1073.7,912.2v-34.5M1075.9,912.2v-34.5M1097.6,912.2v-34.5M1100.9,912.2v-34.5M1104.1,912.2v-34.5M1111.7,912.2v-34.5M1132.3,912.2v-34.5M1144.2,912.2v-34.5M1159.4,912.2v-34.5M1163.7,912.2v-34.5M1220.1,912.2v-34.5M1240.7,912.2v-34.5M1254.8,912.2v-34.5M1259.1,912.2v-34.5M1262.4,912.2v-34.5M1274.3,912.2v-34.5M1281.9,912.2v-34.5M1287.3,912.2v-34.5M1297.1,912.2v-34.5M1303.6,912.2v-34.5M1319.8,912.2v-34.5M1322.0,912.2v-34.5M1338.3,912.2v-34.5M1346.9,912.2v-34.5M1366.5,912.2v-34.5M1367.5,912.2v-34.5M1401.1,912.2v-34.5M1412.0,912.2v-34.5M1430.4,912.2v-34.5M1434.7,912.2v-34.5M1438.0,912.2v-34.5M1482.4,912.2v-34.5M1504.1,912.2v-34.5M1520.4,912.2v-34.5M1534.5,912.2v-34.5M1563.8,912.2v-34.5M1580.0,912.2v-34.5M1624.5,912.2v-34.5M1658.1,912.2v-34.5M1676.5,912.2v-34.5M1678.7,912.2v-34.5M1741.5,912.2v-34.5M1744.8,912.2v-34.5M1778.4,912.2v-34.5M1791.4,912.2v-34.5M1797.9,912.2v-34.5M1802.3,912.2v-34.5M1819.6,912.2v-34.5M1864.0,912.2v-34.5M1870.6,912.2v-34.5M1887.9,912.2v-34.5M1893.3,912.2v-34.5M1966.0,912.2v-34.5M1997.4,912.2v-34.5M2008.2,912.2v-34.5M2052.7,912.2v-34.5M2078.7,912.2v-34.5M2090.6,912.2v-34.5M2111.2,912.2v-34.5M2119.9,912.2v-34.5M2123.1,912.2v-34.5M2125.3,912.2v-34.5M2134.0,912.2v-34.5M2168.7,912.2v-34.5M2178.4,912.2v-34.5M2194.7,912.2v-34.5M2230.5,912.2v-34.5" stroke="#e66b63" stroke-width="4" stroke-linecap="round"/><path d="M716.0,866.2L717.1,497.8L718.2,497.8L719.3,543.8L721.4,543.8L722.5,589.9L723.6,497.8L724.7,497.8L725.8,635.9L726.8,589.9L727.9,497.8L729.0,589.9L730.1,589.9L731.2,635.9L732.3,589.9L733.3,589.9L734.4,497.8L735.5,497.8L736.6,589.9L737.7,682.0L738.8,589.9L739.8,635.9L740.9,589.9L742.0,589.9L743.1,543.8L744.2,497.8L746.4,497.8L747.4,682.0L748.5,589.9L749.6,682.0L750.7,543.8L751.8,497.8L752.9,543.8L755.0,543.8L756.1,589.9L757.2,589.9L758.3,635.9L759.4,543.8L760.4,589.9L761.5,543.8L762.6,497.8L763.7,497.8L764.8,682.0L765.9,543.8L767.0,497.8L768.0,543.8L769.1,497.8L770.2,635.9L771.3,728.0L772.4,589.9L773.5,774.1L774.5,543.8L775.6,635.9L776.7,543.8L777.8,774.1L778.9,635.9L780.0,589.9L781.0,497.8L782.1,589.9L783.2,728.0L784.3,543.8L785.4,497.8L786.5,682.0L787.5,589.9L788.6,589.9L789.7,635.9L790.8,635.9L791.9,774.1L793.0,728.0L794.1,497.8L795.1,635.9L796.2,774.1L797.3,589.9L798.4,774.1L799.5,682.0L800.6,635.9L801.6,543.8L802.7,543.8L803.8,682.0L804.9,589.9L806.0,682.0L807.1,589.9L808.1,497.8L809.2,497.8L810.3,589.9L812.5,589.9L813.6,635.9L814.7,635.9L815.7,589.9L816.8,589.9L817.9,543.8L819.0,682.0L820.1,589.9L821.2,497.8L822.2,497.8L823.3,589.9L824.4,497.8L825.5,497.8L826.6,543.8L827.7,543.8L828.7,497.8L829.8,543.8L830.9,589.9L832.0,543.8L833.1,589.9L834.2,774.1L835.2,497.8L836.3,635.9L837.4,543.8L838.5,543.8L839.6,589.9L840.7,497.8L841.8,497.8L842.8,635.9L843.9,497.8L845.0,543.8L847.2,543.8L848.3,497.8L849.3,543.8L850.4,589.9L851.5,497.8L852.6,589.9L853.7,543.8L854.8,635.9L855.8,635.9L856.9,589.9L858.0,635.9L859.1,543.8L860.2,497.8L861.3,543.8L862.4,635.9L863.4,543.8L865.6,543.8L866.7,589.9L867.8,543.8L871.0,543.8L872.1,497.8L873.2,543.8L874.3,635.9L875.4,682.0L876.4,774.1L877.5,589.9L878.6,682.0L879.7,635.9L880.8,589.9L881.9,635.9L882.9,589.9L884.0,497.8L885.1,497.8L886.2,589.9L887.3,543.8L888.4,589.9L889.5,589.9L890.5,543.8L891.6,589.9L892.7,774.1L893.8,543.8L894.9,589.9L896.0,497.8L897.0,543.8L898.1,497.8L899.2,589.9L900.3,497.8L901.4,497.8L902.5,774.1L903.5,543.8L904.6,543.8L905.7,728.0L906.8,497.8L907.9,497.8L909.0,682.0L910.1,682.0L911.1,497.8L912.2,543.8L913.3,543.8L914.4,635.9L915.5,682.0L916.6,543.8L917.6,866.2L918.7,543.8L919.8,497.8L920.9,728.0L922.0,589.9L923.1,728.0L924.1,589.9L927.4,589.9L928.5,682.0L929.6,543.8L930.6,774.1L931.7,543.8L932.8,497.8L933.9,682.0L935.0,682.0L936.1,497.8L937.2,543.8L938.2,543.8L939.3,589.9L940.4,543.8L941.5,497.8L942.6,497.8L943.7,682.0L944.7,543.8L945.8,728.0L946.9,497.8L948.0,682.0L949.1,497.8L950.2,635.9L951.2,543.8L952.3,589.9L953.4,589.9L954.5,543.8L955.6,635.9L956.7,589.9L957.8,543.8L958.8,497.8L959.9,589.9L961.0,589.9L962.1,543.8L963.2,682.0L964.3,543.8L965.3,543.8L966.4,589.9L967.5,589.9L968.6,497.8L969.7,589.9L970.8,589.9L971.8,728.0L972.9,543.8L974.0,543.8L975.1,497.8L976.2,589.9L977.3,543.8L978.3,497.8L979.4,543.8L980.5,589.9L981.6,543.8L982.7,589.9L983.8,543.8L984.9,497.8L985.9,543.8L987.0,728.0L988.1,635.9L989.2,497.8L990.3,682.0L991.4,682.0L992.4,635.9L993.5,497.8L994.6,543.8L995.7,543.8L996.8,589.9L997.9,543.8L998.9,635.9L1000.0,728.0L1001.1,543.8L1002.2,543.8L1003.3,589.9L1004.4,635.9L1005.5,635.9L1006.5,543.8L1007.6,497.8L1008.7,543.8L1009.8,589.9L1010.9,682.0L1012.0,497.8L1013.0,589.9L1014.1,543.8L1015.2,589.9L1016.3,497.8L1017.4,589.9L1018.5,497.8L1019.5,497.8L1020.6,543.8L1021.7,589.9L1022.8,589.9L1023.9,543.8L1025.0,682.0L1026.0,497.8L1027.1,589.9L1028.2,682.0L1029.3,635.9L1030.4,589.9L1031.5,543.8L1033.6,543.8L1034.7,589.9L1035.8,543.8L1036.9,497.8L1038.0,589.9L1039.1,497.8L1040.1,543.8L1045.6,543.8L1046.6,682.0L1047.7,497.8L1048.8,682.0L1049.9,543.8L1051.0,543.8L1052.1,497.8L1053.2,728.0L1054.2,728.0L1055.3,497.8L1056.4,682.0L1057.5,497.8L1058.6,543.8L1059.7,497.8L1060.7,589.9L1061.8,543.8L1062.9,497.8L1064.0,497.8L1065.1,589.9L1066.2,543.8L1069.4,543.8L1070.5,635.9L1071.6,543.8L1072.7,543.8L1073.7,589.9L1074.8,497.8L1075.9,589.9L1077.0,543.8L1078.1,635.9L1079.2,635.9L1080.3,589.9L1081.3,497.8L1083.5,497.8L1084.6,635.9L1085.7,682.0L1086.8,589.9L1087.8,497.8L1088.9,589.9L1090.0,635.9L1091.1,589.9L1092.2,589.9L1093.3,497.8L1094.3,543.8L1095.4,820.1L1096.5,635.9L1097.6,589.9L1098.7,543.8L1099.8,589.9L1100.9,497.8L1101.9,589.9L1103.0,682.0L1104.1,589.9L1105.2,543.8L1107.4,543.8L1108.4,497.8L1109.5,497.8L1110.6,682.0L1111.7,543.8L1112.8,589.9L1113.9,543.8L1114.9,543.8L1116.0,589.9L1117.1,497.8L1118.2,589.9L1119.3,497.8L1120.4,589.9L1121.4,543.8L1122.5,682.0L1123.6,497.8L1124.7,543.8L1125.8,543.8L1126.9,497.8L1128.0,589.9L1129.0,543.8L1130.1,635.9L1131.2,589.9L1132.3,682.0L1133.4,543.8L1134.5,589.9L1135.5,543.8L1136.6,589.9L1137.7,774.1L1138.8,589.9L1139.9,589.9L1141.0,543.8L1142.0,682.0L1143.1,497.8L1144.2,497.8L1145.3,589.9L1146.4,589.9L1147.5,543.8L1148.6,682.0L1149.6,682.0L1150.7,543.8L1151.8,635.9L1152.9,635.9L1154.0,497.8L1155.1,543.8L1156.1,497.8L1157.2,589.9L1158.3,728.0L1159.4,589.9L1160.5,543.8L1161.6,589.9L1162.6,682.0L1163.7,497.8L1164.8,635.9L1165.9,589.9L1167.0,497.8L1168.1,635.9L1169.1,543.8L1170.2,589.9L1171.3,497.8L1172.4,635.9L1173.5,543.8L1174.6,497.8L1175.7,543.8L1176.7,497.8L1177.8,543.8L1178.9,635.9L1180.0,543.8L1181.1,635.9L1182.2,497.8L1183.2,589.9L1184.3,682.0L1185.4,543.8L1186.5,497.8L1187.6,543.8L1188.7,543.8L1189.7,589.9L1190.8,497.8L1191.9,635.9L1193.0,497.8L1194.1,543.8L1195.2,543.8L1196.3,589.9L1197.3,497.8L1198.4,589.9L1199.5,589.9L1200.6,543.8L1201.7,635.9L1202.8,589.9L1203.8,543.8L1204.9,543.8L1206.0,589.9L1207.1,543.8L1208.2,589.9L1209.3,589.9L1210.3,543.8L1211.4,589.9L1212.5,728.0L1213.6,589.9L1215.8,589.9L1216.8,543.8L1217.9,635.9L1219.0,543.8L1222.3,543.8L1223.4,728.0L1224.4,635.9L1225.5,497.8L1226.6,589.9L1227.7,543.8L1228.8,589.9L1229.9,543.8L1230.9,497.8L1232.0,635.9L1233.1,543.8L1234.2,497.8L1235.3,543.8L1237.4,543.8L1238.5,497.8L1239.6,635.9L1240.7,589.9L1241.8,728.0L1242.9,497.8L1243.9,635.9L1245.0,682.0L1246.1,682.0L1247.2,589.9L1248.3,635.9L1249.4,589.9L1250.5,682.0L1251.5,543.8L1252.6,497.8L1253.7,589.9L1254.8,682.0L1255.9,543.8L1257.0,635.9L1258.0,728.0L1259.1,589.9L1260.2,589.9L1261.3,774.1L1262.4,682.0L1263.5,589.9L1264.5,543.8L1265.6,635.9L1266.7,543.8L1267.8,543.8L1268.9,589.9L1270.0,774.1L1271.1,543.8L1272.1,589.9L1273.2,497.8L1274.3,589.9L1275.4,497.8L1276.5,589.9L1277.6,682.0L1278.6,589.9L1279.7,589.9L1280.8,543.8L1281.9,497.8L1283.0,682.0L1284.1,635.9L1285.1,543.8L1286.2,543.8L1287.3,682.0L1288.4,497.8L1289.5,589.9L1290.6,497.8L1291.6,728.0L1292.7,543.8L1293.8,543.8L1294.9,497.8L1296.0,728.0L1297.1,497.8L1298.2,543.8L1299.2,497.8L1300.3,635.9L1301.4,589.9L1302.5,682.0L1303.6,589.9L1304.7,589.9L1305.7,543.8L1306.8,682.0L1307.9,543.8L1309.0,589.9L1310.1,543.8L1311.2,543.8L1312.2,728.0L1313.3,543.8L1314.4,589.9L1316.6,589.9L1317.7,682.0L1318.8,589.9L1319.8,543.8L1320.9,543.8L1322.0,682.0L1323.1,635.9L1324.2,543.8L1325.3,589.9L1326.3,497.8L1327.4,543.8L1329.6,543.8L1330.7,635.9L1331.8,497.8L1332.8,543.8L1333.9,682.0L1335.0,589.9L1336.1,497.8L1337.2,589.9L1338.3,497.8L1339.3,543.8L1340.4,635.9L1341.5,543.8L1342.6,497.8L1343.7,543.8L1344.8,635.9L1345.9,635.9L1346.9,543.8L1348.0,497.8L1349.1,589.9L1350.2,728.0L1351.3,589.9L1352.4,728.0L1353.4,589.9L1354.5,543.8L1355.6,728.0L1356.7,497.8L1358.9,497.8L1359.9,589.9L1361.0,497.8L1362.1,589.9L1363.2,635.9L1364.3,543.8L1365.4,497.8L1366.5,589.9L1367.5,497.8L1368.6,543.8L1369.7,682.0L1370.8,497.8L1371.9,589.9L1373.0,635.9L1374.0,497.8L1375.1,589.9L1376.2,682.0L1377.3,497.8L1378.4,543.8L1379.5,543.8L1380.5,774.1L1381.6,589.9L1382.7,543.8L1383.8,543.8L1384.9,682.0L1386.0,682.0L1387.0,543.8L1388.1,635.9L1389.2,497.8L1390.3,497.8L1391.4,543.8L1392.5,497.8L1393.6,497.8L1394.6,589.9L1395.7,543.8L1396.8,635.9L1397.9,497.8L1399.0,589.9L1400.1,543.8L1401.1,589.9L1402.2,543.8L1403.3,497.8L1405.5,497.8L1406.6,589.9L1407.6,635.9L1408.7,589.9L1409.8,497.8L1410.9,589.9L1412.0,589.9L1413.1,543.8L1414.2,543.8L1415.2,497.8L1416.3,497.8L1417.4,589.9L1418.5,682.0L1419.6,497.8L1420.7,543.8L1421.7,497.8L1423.9,497.8L1425.0,543.8L1426.1,589.9L1427.2,635.9L1428.2,543.8L1429.3,635.9L1430.4,635.9L1431.5,728.0L1432.6,543.8L1433.7,589.9L1434.7,589.9L1435.8,728.0L1436.9,589.9L1438.0,682.0L1439.1,543.8L1440.2,589.9L1441.3,543.8L1442.3,728.0L1443.4,589.9L1444.5,728.0L1445.6,543.8L1446.7,497.8L1447.8,543.8L1448.8,497.8L1449.9,589.9L1451.0,543.8L1452.1,589.9L1453.2,543.8L1454.3,589.9L1455.3,497.8L1456.4,543.8L1457.5,543.8L1458.6,635.9L1459.7,682.0L1460.8,543.8L1461.9,497.8L1462.9,589.9L1464.0,543.8L1465.1,635.9L1466.2,589.9L1467.3,543.8L1468.4,682.0L1469.4,497.8L1470.5,589.9L1471.6,543.8L1472.7,589.9L1473.8,543.8L1475.9,543.8L1477.0,589.9L1478.1,543.8L1479.2,589.9L1480.3,543.8L1481.4,728.0L1482.4,682.0L1483.5,589.9L1484.6,635.9L1485.7,589.9L1486.8,543.8L1487.9,543.8L1489.0,589.9L1490.0,543.8L1491.1,682.0L1492.2,543.8L1493.3,543.8L1494.4,497.8L1495.5,635.9L1496.5,682.0L1497.6,820.1L1498.7,497.8L1499.8,589.9L1500.9,589.9L1502.0,820.1L1503.0,543.8L1504.1,589.9L1505.2,635.9L1506.3,497.8L1507.4,543.8L1508.5,866.2L1509.6,497.8L1510.6,497.8L1511.7,589.9L1512.8,635.9L1513.9,635.9L1515.0,543.8L1516.1,497.8L1517.1,543.8L1518.2,497.8L1519.3,728.0L1520.4,543.8L1521.5,635.9L1522.6,635.9L1523.6,728.0L1524.7,543.8L1526.9,543.8L1528.0,497.8L1529.1,774.1L1530.1,497.8L1531.2,543.8L1532.3,635.9L1533.4,497.8L1534.5,635.9L1535.6,497.8L1536.7,543.8L1537.7,543.8L1538.8,497.8L1539.9,543.8L1541.0,728.0L1542.1,543.8L1545.3,543.8L1546.4,589.9L1547.5,635.9L1548.6,589.9L1549.7,497.8L1550.7,543.8L1551.8,589.9L1552.9,543.8L1555.1,543.8L1556.2,635.9L1557.3,497.8L1558.3,589.9L1559.4,543.8L1560.5,543.8L1561.6,589.9L1562.7,682.0L1563.8,497.8L1567.0,497.8L1568.1,589.9L1569.2,589.9L1570.3,635.9L1571.3,497.8L1572.4,497.8L1573.5,635.9L1574.6,589.9L1575.7,543.8L1577.8,543.8L1578.9,589.9L1580.0,543.8L1581.1,543.8L1582.2,497.8L1583.3,589.9L1585.4,589.9L1586.5,543.8L1587.6,543.8L1588.7,589.9L1589.8,589.9L1590.9,543.8L1591.9,497.8L1593.0,635.9L1594.1,497.8L1595.2,543.8L1596.3,497.8L1597.4,543.8L1598.4,497.8L1599.5,497.8L1600.6,543.8L1601.7,497.8L1602.8,497.8L1603.9,589.9L1605.0,543.8L1606.0,497.8L1607.1,589.9L1608.2,543.8L1609.3,497.8L1610.4,543.8L1611.5,635.9L1612.5,635.9L1613.6,543.8L1615.8,543.8L1616.9,497.8L1618.0,635.9L1619.0,728.0L1620.1,497.8L1621.2,497.8L1622.3,543.8L1623.4,497.8L1624.5,589.9L1625.5,635.9L1626.6,543.8L1627.7,543.8L1628.8,589.9L1629.9,497.8L1631.0,589.9L1632.1,497.8L1633.1,774.1L1634.2,774.1L1635.3,635.9L1636.4,589.9L1637.5,728.0L1638.6,543.8L1639.6,497.8L1640.7,543.8L1641.8,543.8L1642.9,589.9L1644.0,497.8L1645.1,589.9L1646.1,543.8L1648.3,543.8L1649.4,589.9L1650.5,543.8L1651.6,682.0L1652.7,635.9L1653.7,589.9L1654.8,543.8L1655.9,589.9L1657.0,635.9L1658.1,543.8L1660.2,543.8L1661.3,682.0L1662.4,682.0L1663.5,543.8L1664.6,635.9L1665.7,589.9L1666.7,497.8L1667.8,589.9L1668.9,682.0L1670.0,497.8L1671.1,589.9L1672.2,497.8L1673.2,589.9L1674.3,543.8L1675.4,589.9L1676.5,728.0L1677.6,497.8L1678.7,635.9L1679.8,635.9L1680.8,543.8L1681.9,543.8L1683.0,497.8L1684.1,682.0L1685.2,497.8L1686.3,589.9L1687.3,497.8L1689.5,497.8L1690.6,543.8L1691.7,543.8L1692.8,728.0L1693.8,589.9L1694.9,635.9L1696.0,543.8L1697.1,682.0L1698.2,497.8L1699.3,589.9L1700.4,589.9L1701.4,543.8L1703.6,543.8L1704.7,497.8L1705.8,543.8L1706.9,497.8L1707.9,543.8L1709.0,728.0L1710.1,589.9L1711.2,589.9L1712.3,635.9L1713.4,497.8L1714.4,543.8L1715.5,497.8L1716.6,543.8L1717.7,589.9L1718.8,497.8L1719.9,589.9L1720.9,682.0L1722.0,497.8L1723.1,589.9L1724.2,543.8L1725.3,543.8L1726.4,497.8L1727.5,589.9L1728.5,589.9L1729.6,497.8L1730.7,774.1L1731.8,589.9L1732.9,497.8L1734.0,497.8L1735.0,589.9L1737.2,589.9L1738.3,635.9L1739.4,635.9L1740.5,543.8L1741.5,497.8L1742.6,589.9L1743.7,820.1L1744.8,497.8L1748.1,497.8L1749.1,682.0L1750.2,635.9L1751.3,589.9L1752.4,635.9L1753.5,682.0L1754.6,497.8L1755.6,682.0L1756.7,543.8L1757.8,589.9L1758.9,543.8L1761.1,543.8L1762.1,497.8L1763.2,682.0L1764.3,635.9L1765.4,543.8L1766.5,589.9L1767.6,589.9L1768.6,682.0L1769.7,682.0L1770.8,820.1L1771.9,497.8L1773.0,682.0L1774.1,497.8L1775.2,497.8L1776.2,589.9L1777.3,497.8L1778.4,589.9L1779.5,543.8L1780.6,497.8L1781.7,682.0L1782.7,497.8L1783.8,589.9L1786.0,589.9L1787.1,543.8L1788.2,589.9L1789.2,543.8L1790.3,589.9L1791.4,543.8L1792.5,589.9L1794.7,589.9L1795.7,543.8L1796.8,543.8L1797.9,866.2L1799.0,682.0L1800.1,497.8L1801.2,497.8L1802.3,682.0L1803.3,543.8L1804.4,543.8L1805.5,589.9L1812.0,589.9L1813.1,543.8L1814.2,543.8L1815.3,682.0L1816.3,589.9L1817.4,497.8L1818.5,589.9L1819.6,682.0L1820.7,635.9L1821.8,497.8L1822.9,543.8L1823.9,543.8L1825.0,866.2L1826.1,543.8L1827.2,497.8L1828.3,589.9L1829.4,543.8L1830.4,543.8L1831.5,497.8L1832.6,543.8L1833.7,497.8L1834.8,543.8L1835.9,589.9L1836.9,543.8L1838.0,543.8L1839.1,635.9L1840.2,589.9L1841.3,774.1L1842.4,589.9L1843.4,635.9L1844.5,589.9L1845.6,497.8L1846.7,543.8L1847.8,543.8L1848.9,589.9L1850.0,589.9L1851.0,497.8L1852.1,635.9L1853.2,543.8L1854.3,497.8L1855.4,589.9L1857.5,589.9L1858.6,866.2L1859.7,497.8L1860.8,497.8L1861.9,543.8L1863.0,635.9L1864.0,543.8L1865.1,682.0L1866.2,543.8L1867.3,589.9L1868.4,543.8L1869.5,635.9L1870.6,589.9L1871.6,589.9L1872.7,543.8L1873.8,543.8L1874.9,589.9L1876.0,543.8L1877.1,543.8L1878.1,682.0L1879.2,497.8L1880.3,635.9L1881.4,589.9L1882.5,635.9L1883.6,543.8L1884.6,635.9L1885.7,589.9L1887.9,589.9L1889.0,543.8L1890.1,543.8L1891.1,682.0L1892.2,497.8L1893.3,543.8L1894.4,589.9L1895.5,497.8L1896.6,543.8L1897.7,635.9L1898.7,866.2L1899.8,543.8L1900.9,589.9L1902.0,543.8L1903.1,589.9L1904.2,543.8L1905.2,543.8L1906.3,589.9L1907.4,728.0L1908.5,543.8L1909.6,589.9L1910.7,543.8L1911.7,497.8L1912.8,589.9L1913.9,589.9L1915.0,497.8L1916.1,543.8L1917.2,497.8L1918.3,635.9L1919.3,497.8L1921.5,497.8L1922.6,589.9L1923.7,497.8L1924.8,497.8L1925.8,589.9L1926.9,728.0L1928.0,589.9L1929.1,635.9L1930.2,497.8L1931.3,543.8L1932.3,589.9L1933.4,635.9L1934.5,543.8L1935.6,497.8L1936.7,635.9L1937.8,543.8L1938.8,728.0L1939.9,497.8L1941.0,589.9L1942.1,497.8L1943.2,543.8L1944.3,635.9L1945.4,635.9L1946.4,589.9L1947.5,635.9L1948.6,589.9L1949.7,728.0L1950.8,497.8L1951.9,682.0L1952.9,635.9L1954.0,635.9L1955.1,543.8L1956.2,728.0L1957.3,635.9L1958.4,543.8L1959.4,543.8L1960.5,589.9L1961.6,635.9L1962.7,728.0L1963.8,497.8L1964.9,543.8L1966.0,635.9L1967.0,497.8L1968.1,543.8L1969.2,543.8L1970.3,635.9L1971.4,497.8L1972.5,543.8L1973.5,497.8L1974.6,635.9L1975.7,728.0L1976.8,682.0L1977.9,543.8L1979.0,589.9L1980.0,635.9L1981.1,497.8L1982.2,543.8L1983.3,543.8L1984.4,682.0L1985.5,682.0L1986.5,497.8L1987.6,728.0L1988.7,589.9L1989.8,589.9L1990.9,543.8L1992.0,635.9L1993.1,543.8L1994.1,589.9L1995.2,543.8L1996.3,682.0L1997.4,589.9L1998.5,589.9L1999.6,635.9L2000.6,543.8L2001.7,635.9L2002.8,728.0L2003.9,543.8L2005.0,635.9L2006.1,497.8L2007.1,497.8L2008.2,543.8L2009.3,543.8L2010.4,497.8L2012.6,497.8L2013.7,543.8L2014.7,543.8L2015.8,635.9L2016.9,543.8L2018.0,543.8L2019.1,635.9L2020.2,682.0L2021.2,589.9L2022.3,497.8L2023.4,543.8L2024.5,543.8L2025.6,635.9L2026.7,635.9L2027.7,589.9L2028.8,589.9L2029.9,728.0L2031.0,543.8L2032.1,497.8L2033.2,589.9L2034.2,497.8L2035.3,543.8L2036.4,589.9L2037.5,589.9L2038.6,635.9L2039.7,589.9L2040.8,682.0L2041.8,635.9L2042.9,497.8L2044.0,589.9L2045.1,589.9L2046.2,543.8L2047.3,589.9L2048.3,543.8L2049.4,635.9L2050.5,589.9L2051.6,497.8L2052.7,635.9L2053.8,497.8L2054.8,543.8L2055.9,543.8L2057.0,635.9L2058.1,497.8L2059.2,589.9L2060.3,589.9L2061.4,543.8L2062.4,543.8L2063.5,635.9L2064.6,774.1L2065.7,497.8L2066.8,589.9L2067.9,497.8L2068.9,497.8L2070.0,543.8L2071.1,497.8L2072.2,589.9L2073.3,728.0L2074.4,589.9L2075.4,497.8L2076.5,589.9L2077.6,497.8L2078.7,543.8L2080.9,543.8L2081.9,497.8L2083.0,820.1L2084.1,543.8L2085.2,497.8L2086.3,543.8L2087.4,682.0L2088.5,774.1L2089.5,543.8L2090.6,497.8L2091.7,589.9L2092.8,635.9L2093.9,497.8L2095.0,497.8L2096.0,682.0L2097.1,543.8L2098.2,543.8L2099.3,497.8L2100.4,589.9L2101.5,543.8L2102.5,497.8L2103.6,589.9L2104.7,589.9L2105.8,497.8L2106.9,497.8L2108.0,543.8L2109.1,635.9L2110.1,497.8L2111.2,635.9L2112.3,543.8L2113.4,589.9L2114.5,682.0L2115.6,497.8L2116.6,497.8L2117.7,635.9L2118.8,497.8L2119.9,682.0L2121.0,589.9L2122.1,589.9L2123.1,497.8L2124.2,543.8L2125.3,589.9L2126.4,635.9L2127.5,589.9L2128.6,497.8L2129.6,543.8L2130.7,635.9L2131.8,543.8L2132.9,497.8L2134.0,635.9L2135.1,497.8L2136.2,589.9L2138.3,589.9L2139.4,635.9L2140.5,589.9L2141.6,682.0L2142.7,543.8L2143.7,543.8L2144.8,497.8L2145.9,589.9L2147.0,635.9L2148.1,543.8L2149.2,497.8L2150.2,682.0L2151.3,635.9L2152.4,589.9L2153.5,543.8L2154.6,589.9L2155.7,589.9L2156.8,728.0L2157.8,589.9L2158.9,543.8L2160.0,497.8L2161.1,820.1L2162.2,589.9L2163.3,635.9L2164.3,497.8L2165.4,543.8L2166.5,589.9L2167.6,589.9L2168.7,497.8L2169.8,497.8L2170.8,728.0L2171.9,635.9L2173.0,543.8L2174.1,543.8L2175.2,682.0L2176.3,497.8L2177.3,635.9L2178.4,543.8L2179.5,682.0L2180.6,589.9L2181.7,497.8L2182.8,543.8L2183.9,543.8L2184.9,635.9L2186.0,543.8L2187.1,635.9L2188.2,589.9L2189.3,635.9L2190.4,635.9L2191.4,543.8L2192.5,589.9L2193.6,497.8L2194.7,543.8L2195.8,497.8L2199.0,497.8L2200.1,543.8L2201.2,497.8L2202.3,589.9L2203.4,635.9L2204.5,589.9L2205.5,682.0L2206.6,543.8L2207.7,589.9L2208.8,543.8L2211.0,543.8L2212.0,589.9L2213.1,543.8L2214.2,543.8L2215.3,589.9L2216.4,728.0L2217.5,543.8L2218.5,543.8L2219.6,497.8L2220.7,543.8L2221.8,589.9L2222.9,543.8L2224.0,728.0L2225.0,589.9L2226.1,820.1L2227.2,635.9L2228.3,543.8L2229.4,543.8L2230.5,589.9L2231.6,497.8L2232.6,589.9L2233.7,589.9L2234.8,543.8L2235.9,497.8L2237.0,589.9L2238.1,543.8L2239.1,543.8L2240.2,589.9L2241.3,543.8L2242.4,497.8L2243.5,497.8L2244.6,728.0L2245.6,589.9L2246.7,589.9L2247.8,543.8L2248.9,635.9L2250.0,497.8L2251.1,866.2L2252.2,543.8L2253.2,589.9L2255.4,589.9L2256.5,543.8L2257.6,589.9L2258.7,635.9L2259.7,728.0L2260.8,728.0L2261.9,589.9L2263.0,635.9L2264.1,866.2L2265.2,497.8L2266.2,497.8L2267.3,589.9L2268.4,543.8L2269.5,497.8L2270.6,543.8L2271.7,635.9L2272.7,589.9L2273.8,635.9L2274.9,635.9L2276.0,912.2" stroke="#f3cc5e" stroke-width="4" stroke-linejoin="round"/><path d="M1534.2,359.6V912.2" stroke="#3a3a3a" stroke-width="2"/><circle cx="1534.2" cy="601.4" r="8" fill="#74adf5"/><circle cx="1534.2" cy="635.9" r="8" fill="#6fd08c"/><circle cx="1534.2" cy="635.9" r="8" fill="#f3cc5e"/><circle cx="1534.2" cy="877.7" r="8" fill="#e66b63"/></svg>
<div class="t" style="left:684.98px;top:897.50px;font-size:25.2px;line-height:32px;color:#727272;">0</div>
<div class="t" style="left:684.98px;top:759.35px;font-size:25.2px;line-height:32px;color:#727272;">4</div>
<div class="t" style="left:684.98px;top:621.20px;font-size:25.2px;line-height:32px;color:#727272;">8</div>
<div class="t" style="left:673.00px;top:483.05px;font-size:25.2px;line-height:32px;color:#727272;letter-spacing:-2.031px;">12</div>
<div class="t" style="left:673.00px;top:344.90px;font-size:25.2px;line-height:32px;color:#727272;letter-spacing:-2.031px;">16</div>
<div class="t" style="left:2292.00px;top:897.50px;font-size:25.2px;line-height:32px;color:#727272;">0</div>
<div class="t" style="left:2292.00px;top:759.35px;font-size:25.2px;line-height:32px;color:#727272;">3</div>
<div class="t" style="left:2292.00px;top:621.20px;font-size:25.2px;line-height:32px;color:#727272;">6</div>
<div class="t" style="left:2292.00px;top:483.05px;font-size:25.2px;line-height:32px;color:#727272;">9</div>
<div class="t" style="left:2292.00px;top:344.90px;font-size:25.2px;line-height:32px;color:#727272;letter-spacing:-2.031px;">12</div>
<div class="t" style="left:750.00px;top:920.50px;font-size:25.2px;line-height:32px;color:#727272;letter-spacing:-0.635px;">6:41 PM</div>
<div class="t" style="left:896.15px;top:920.50px;font-size:25.2px;line-height:32px;color:#727272;letter-spacing:-0.019px;">8:58 PM</div>
<div class="t" style="left:1043.35px;top:920.50px;font-size:25.2px;line-height:32px;color:#727272;letter-spacing:-1.236px;">11:16 PM</div>
<div class="t" style="left:1195.00px;top:920.50px;font-size:25.2px;line-height:32px;color:#727272;letter-spacing:-0.504px;">1:32 AM</div>
<div class="t" style="left:1339.50px;top:920.50px;font-size:25.2px;line-height:32px;color:#727272;letter-spacing:0.096px;">3:47 AM</div>
<div class="t" style="left:1488.50px;top:920.50px;font-size:25.2px;line-height:32px;color:#727272;letter-spacing:0.263px;">6:05 AM</div>
<div class="t" style="left:1636.70px;top:920.50px;font-size:25.2px;line-height:32px;color:#727272;letter-spacing:-0.070px;">8:21 AM</div>
<div class="t" style="left:1780.50px;top:920.50px;font-size:25.2px;line-height:32px;color:#727272;letter-spacing:0.083px;">10:42 AM</div>
<div class="t" style="left:1941.50px;top:920.50px;font-size:25.2px;line-height:32px;color:#727272;letter-spacing:-0.635px;">1:02 PM</div>
<div class="t" style="left:2086.00px;top:920.50px;font-size:25.2px;line-height:32px;color:#727272;letter-spacing:-0.635px;">3:15 PM</div>
<div class="t" style="left:2228.90px;top:920.50px;font-size:25.2px;line-height:32px;color:#727272;letter-spacing:-0.135px;">5:29 PM</div>
<div class="b" style="left:1024.8px;top:994px;width:20px;height:20px;border-radius:4px;background:#f3cc5e"></div>
<div class="t" style="left:1057.50px;top:989.00px;font-size:25.2px;line-height:32px;color:#9a9a9a;letter-spacing:0.097px;">Queues With Throughput</div>
<div class="b" style="left:1373.6px;top:994px;width:20px;height:20px;border-radius:4px;background:#6fd08c"></div>
<div class="t" style="left:1406.00px;top:989.00px;font-size:25.2px;line-height:32px;color:#9a9a9a;letter-spacing:0.084px;">Completed/min</div>
<div class="b" style="left:1609px;top:994px;width:20px;height:20px;border-radius:4px;background:#e66b63"></div>
<div class="t" style="left:1641.80px;top:989.00px;font-size:25.2px;line-height:32px;color:#9a9a9a;letter-spacing:-0.332px;">Failed/min</div>
<div class="b" style="left:1787.6px;top:994px;width:20px;height:20px;border-radius:4px;background:#74adf5"></div>
<div class="t" style="left:1820.00px;top:989.00px;font-size:25.2px;line-height:32px;color:#9a9a9a;letter-spacing:-0.072px;">Finished/min</div>
<div class="b" style="left:1555px;top:610px;width:410px;height:254px;border-radius:16px;border:2px solid #1f1f1f;box-sizing:border-box;background:#0e0e0e;box-shadow:0 8px 30px rgba(0,0,0,.5)"></div>
<div class="t" style="left:1581.50px;top:633.00px;font-size:25.2px;line-height:32px;color:#fafafa;letter-spacing:0.539px;-webkit-text-stroke:0.5px #fafafa;">Feb 22, 6:04:00 AM</div>
<div class="b" style="left:1580px;top:686.3px;width:20px;height:20px;border-radius:4px;background:#74adf5"></div>
<div class="t" style="left:1617.20px;top:681.30px;font-size:25.2px;line-height:32px;color:#9a9a9a;letter-spacing:-0.072px;">Finished/min</div>
<div class="t" style="left:1924.19px;top:683.30px;font-size:24px;line-height:30px;color:#fafafa;font-weight:700;font-family:'Liberation Mono',monospace;">9</div>
<div class="b" style="left:1580px;top:730.3px;width:20px;height:20px;border-radius:4px;background:#6fd08c"></div>
<div class="t" style="left:1617.20px;top:725.30px;font-size:25.2px;line-height:32px;color:#9a9a9a;letter-spacing:0.084px;">Completed/min</div>
<div class="t" style="left:1924.19px;top:727.30px;font-size:24px;line-height:30px;color:#fafafa;font-weight:700;font-family:'Liberation Mono',monospace;">8</div>
<div class="b" style="left:1580px;top:774.3px;width:20px;height:20px;border-radius:4px;background:#e66b63"></div>
<div class="t" style="left:1617.20px;top:769.30px;font-size:25.2px;line-height:32px;color:#9a9a9a;letter-spacing:-0.332px;">Failed/min</div>
<div class="t" style="left:1924.19px;top:771.30px;font-size:24px;line-height:30px;color:#fafafa;font-weight:700;font-family:'Liberation Mono',monospace;">1</div>
<div class="b" style="left:1580px;top:818.3px;width:20px;height:20px;border-radius:4px;background:#f3cc5e"></div>
<div class="t" style="left:1617.20px;top:813.30px;font-size:25.2px;line-height:32px;color:#9a9a9a;letter-spacing:0.097px;">Queues With Throughput</div>
<div class="t" style="left:1924.19px;top:815.30px;font-size:24px;line-height:30px;color:#fafafa;font-weight:700;font-family:'Liberation Mono',monospace;">6</div>
<div class="t" style="left:2520.70px;top:213.40px;font-size:32.38px;line-height:40px;color:#fafafa;letter-spacing:-0.389px;-webkit-text-stroke:1.3px #fafafa;">Queue State Mix</div>
<div class="t" style="left:2520.70px;top:270.20px;font-size:29.4px;line-height:37px;color:#9a9a9a;letter-spacing:-0.127px;">Control-plane posture across discovered queues.</div>
<svg class="b" style="left:2732px;top:372px" width="400" height="400" viewBox="-200 -200 400 400"><circle r="136" fill="none" stroke="#79d594" stroke-width="66"/><circle r="168.3" fill="none" stroke="#fff" stroke-width="5.4"/><circle r="103.4" fill="none" stroke="#fff" stroke-width="5.4"/><path d="M101 0H171" stroke="#fff" stroke-width="5.4"/></svg>
<div class="t" style="left:2556.80px;top:844.80px;font-size:25.2px;line-height:32px;color:#a3a3a3;letter-spacing:-0.371px;">Running</div>
<div class="t" style="left:3328.39px;top:845.80px;font-size:24px;line-height:30px;color:#ededed;font-family:'Liberation Mono',monospace;">9</div>
<div class="t" style="left:2556.80px;top:892.80px;font-size:25.2px;line-height:32px;color:#a3a3a3;letter-spacing:-0.688px;">Paused</div>
<div class="t" style="left:3328.39px;top:893.80px;font-size:24px;line-height:30px;color:#ededed;font-family:'Liberation Mono',monospace;">0</div>
<div class="t" style="left:2556.80px;top:940.80px;font-size:25.2px;line-height:32px;color:#a3a3a3;letter-spacing:-0.081px;">RateLimited</div>
<div class="t" style="left:3328.39px;top:941.80px;font-size:24px;line-height:30px;color:#ededed;font-family:'Liberation Mono',monospace;">0</div>
<div class="t" style="left:2556.80px;top:988.80px;font-size:25.2px;line-height:32px;color:#a3a3a3;letter-spacing:-0.502px;">Maxed</div>
<div class="t" style="left:3328.39px;top:989.80px;font-size:24px;line-height:30px;color:#ededed;font-family:'Liberation Mono',monospace;">0</div>
<div class="t" style="left:609.20px;top:1192.30px;font-size:32.38px;line-height:40px;color:#fafafa;letter-spacing:-0.429px;-webkit-text-stroke:1.3px #fafafa;">Backlog Pressure By Queue</div>
<div class="t" style="left:609.20px;top:1249.70px;font-size:29.4px;line-height:37px;color:#9a9a9a;letter-spacing:-0.023px;">Queues with the highest `waitingToProcess` and active work.</div>
<svg class="b" style="left:0;top:1100px" width="3454" height="884" viewBox="0 1100 3454 884" fill="none"><path d="M867.7,1327.4V1866.8" stroke="#242424" stroke-width="2"/><path d="M1120.3,1327.4V1866.8" stroke="#242424" stroke-width="2"/><path d="M1372.8,1327.4V1866.8" stroke="#242424" stroke-width="2"/><path d="M1625.4,1327.4V1866.8" stroke="#242424" stroke-width="2"/><path d="M1877.9,1327.4V1866.8" stroke="#242424" stroke-width="2"/><path d="M867.7,1334.1h621.4a10.0 10.0 0 0 1 0,20H867.7Z" fill="#74adf5"/><path d="M867.7,1394.0h116.3a10.0 10.0 0 0 1 0,20H867.7Z" fill="#74adf5"/><path d="M867.7,1454.0h116.3a10.0 10.0 0 0 1 0,20H867.7Z" fill="#74adf5"/></svg>
<div class="t" style="left:647.96px;top:1343.16px;font-size:25.2px;line-height:32px;color:#727272;letter-spacing:0.440px;">return-processing</div>
<div class="t" style="left:707.57px;top:1403.10px;font-size:25.2px;line-height:32px;color:#727272;letter-spacing:0.440px;">fraud-review</div>
<div class="t" style="left:698.75px;top:1463.02px;font-size:25.2px;line-height:32px;color:#727272;letter-spacing:0.440px;">cart-recovery</div>
<div class="t" style="left:642.34px;top:1522.95px;font-size:25.2px;line-height:32px;color:#727272;letter-spacing:0.440px;">refund-processing</div>
<div class="t" style="left:616.71px;top:1582.88px;font-size:25.2px;line-height:32px;color:#727272;letter-spacing:0.440px;">payment-processing</div>
<div class="t" style="left:610.67px;top:1642.82px;font-size:25.2px;line-height:32px;color:#727272;letter-spacing:0.440px;">shipment-processing</div>
<div class="t" style="left:689.38px;top:1702.74px;font-size:25.2px;line-height:32px;color:#727272;letter-spacing:0.440px;">user-welcome</div>
<div class="t" style="left:655.40px;top:1762.67px;font-size:25.2px;line-height:32px;color:#727272;letter-spacing:0.440px;">order-processing</div>
<div class="t" style="left:682.89px;top:1822.61px;font-size:25.2px;line-height:32px;color:#727272;letter-spacing:0.440px;">inventory-sync</div>
<div class="t" style="left:860.69px;top:1876.60px;font-size:25.2px;line-height:32px;color:#727272;">0</div>
<div class="t" style="left:1113.25px;top:1876.60px;font-size:25.2px;line-height:32px;color:#727272;">2</div>
<div class="t" style="left:1365.81px;top:1876.60px;font-size:25.2px;line-height:32px;color:#727272;">4</div>
<div class="t" style="left:1618.37px;top:1876.60px;font-size:25.2px;line-height:32px;color:#727272;">6</div>
<div class="t" style="left:1870.93px;top:1876.60px;font-size:25.2px;line-height:32px;color:#727272;">8</div>
<div class="b" style="left:1029.5px;top:1951px;width:20px;height:20px;border-radius:4px;background:#6fd08c"></div>
<div class="t" style="left:1062.40px;top:1945.00px;font-size:25.2px;line-height:32px;color:#9a9a9a;letter-spacing:0.080px;">Active Jobs</div>
<div class="b" style="left:1224.2px;top:1951px;width:20px;height:20px;border-radius:4px;background:#74adf5"></div>
<div class="t" style="left:1257.00px;top:1945.00px;font-size:25.2px;line-height:32px;color:#9a9a9a;letter-spacing:0.007px;">Waiting To Process</div>
<div class="t" style="left:2042.50px;top:1192.00px;font-size:32.38px;line-height:40px;color:#fafafa;letter-spacing:-0.695px;-webkit-text-stroke:1.3px #fafafa;">Failure Risk By Queue</div>
<div class="t" style="left:2042.50px;top:1250.00px;font-size:29.4px;line-height:37px;color:#9a9a9a;letter-spacing:-0.023px;">Highest failure-rate queues for the selected window.</div>
<svg class="b" style="left:0;top:1100px" width="3454" height="884" viewBox="0 1100 3454 884" fill="none"><path d="M2301.8,1327.4V1866.8" stroke="#242424" stroke-width="2"/><path d="M2554.2,1327.4V1866.8" stroke="#242424" stroke-width="2"/><path d="M2806.6,1327.4V1866.8" stroke="#242424" stroke-width="2"/><path d="M3059.0,1327.4V1866.8" stroke="#242424" stroke-width="2"/><path d="M3311.4,1327.4V1866.8" stroke="#242424" stroke-width="2"/><path d="M2301.8,1334.1h55.4a10.0 10.0 0 0 1 0,20H2301.8Z" fill="#e66b63"/><path d="M2301.8,1362.1h848.2a10.0 10.0 0 0 1 0,20H2301.8Z" fill="#f2b755"/><path d="M2301.8,1394.0h39.5a10.0 10.0 0 0 1 0,20H2301.8Z" fill="#e66b63"/><path d="M2301.8,1422.0h646.2a10.0 10.0 0 0 1 0,20H2301.8Z" fill="#f2b755"/><path d="M2301.8,1454.0h28.4a10.0 10.0 0 0 1 0,20H2301.8Z" fill="#e66b63"/><path d="M2301.8,1482.0h494.8a10.0 10.0 0 0 1 0,20H2301.8Z" fill="#f2b755"/><path d="M2301.8,1513.9h24.3a10.0 10.0 0 0 1 0,20H2301.8Z" fill="#e66b63"/><path d="M2301.8,1541.9h444.3a10.0 10.0 0 0 1 0,20H2301.8Z" fill="#f2b755"/><path d="M2301.8,1573.8h20.8a10.0 10.0 0 0 1 0,20H2301.8Z" fill="#e66b63"/><path d="M2301.8,1601.8h393.8a10.0 10.0 0 0 1 0,20H2301.8Z" fill="#f2b755"/><path d="M2301.8,1633.8h12.7a10.0 10.0 0 0 1 0,20H2301.8Z" fill="#e66b63"/><path d="M2301.8,1661.8h292.9a10.0 10.0 0 0 1 0,20H2301.8Z" fill="#f2b755"/><path d="M2301.8,1693.7h8.7a10.0 10.0 0 0 1 0,20H2301.8Z" fill="#e66b63"/><path d="M2301.8,1721.7h242.4a10.0 10.0 0 0 1 0,20H2301.8Z" fill="#f2b755"/><path d="M2301.8,1753.6h8.7a10.0 10.0 0 0 1 0,20H2301.8Z" fill="#e66b63"/><path d="M2301.8,1781.6h242.4a10.0 10.0 0 0 1 0,20H2301.8Z" fill="#f2b755"/><path d="M2301.8,1813.5h1.6a10.0 10.0 0 0 1 0,20H2301.8Z" fill="#e66b63"/><path d="M2301.8,1841.5h141.4a10.0 10.0 0 0 1 0,20H2301.8Z" fill="#f2b755"/></svg>
<div class="t" style="left:2051.01px;top:1343.16px;font-size:25.2px;line-height:32px;color:#727272;letter-spacing:0.440px;">payment-processing</div>
<div class="t" style="left:2076.64px;top:1403.10px;font-size:25.2px;line-height:32px;color:#727272;letter-spacing:0.440px;">refund-processing</div>
<div class="t" style="left:2082.26px;top:1463.02px;font-size:25.2px;line-height:32px;color:#727272;letter-spacing:0.440px;">return-processing</div>
<div class="t" style="left:2044.97px;top:1522.95px;font-size:25.2px;line-height:32px;color:#727272;letter-spacing:0.440px;">shipment-processing</div>
<div class="t" style="left:2089.70px;top:1582.88px;font-size:25.2px;line-height:32px;color:#727272;letter-spacing:0.440px;">order-processing</div>
<div class="t" style="left:2133.05px;top:1642.82px;font-size:25.2px;line-height:32px;color:#727272;letter-spacing:0.440px;">cart-recovery</div>
<div class="t" style="left:2123.68px;top:1702.74px;font-size:25.2px;line-height:32px;color:#727272;letter-spacing:0.440px;">user-welcome</div>
<div class="t" style="left:2117.19px;top:1762.67px;font-size:25.2px;line-height:32px;color:#727272;letter-spacing:0.440px;">inventory-sync</div>
<div class="t" style="left:2141.87px;top:1822.61px;font-size:25.2px;line-height:32px;color:#727272;letter-spacing:0.440px;">fraud-review</div>
<div class="t" style="left:2273.39px;top:1876.90px;font-size:25.2px;line-height:32px;color:#727272;letter-spacing:-0.200px;">0.0%</div>
<div class="t" style="left:2525.79px;top:1876.90px;font-size:25.2px;line-height:32px;color:#727272;letter-spacing:-0.200px;">5.0%</div>
<div class="t" style="left:2771.29px;top:1876.90px;font-size:25.2px;line-height:32px;color:#727272;letter-spacing:-0.200px;">10.0%</div>
<div class="t" style="left:3023.69px;top:1876.90px;font-size:25.2px;line-height:32px;color:#727272;letter-spacing:-0.200px;">15.0%</div>
<div class="t" style="left:3272.49px;top:1876.90px;font-size:25.2px;line-height:32px;color:#727272;letter-spacing:-0.200px;">20.0%</div>
<div class="b" style="left:2474.5px;top:1951px;width:20px;height:20px;border-radius:4px;background:#f2b755"></div>
<div class="t" style="left:2508.00px;top:1944.70px;font-size:25.2px;line-height:32px;color:#9a9a9a;letter-spacing:-0.299px;">Failed In Window</div>
<div class="b" style="left:2730.3px;top:1951px;width:20px;height:20px;border-radius:4px;background:#e66b63"></div>
<div class="t" style="left:2762.70px;top:1944.70px;font-size:25.2px;line-height:32px;color:#9a9a9a;letter-spacing:-0.582px;">Failure Rate</div>
<div class="b" style="left:3442px;top:495px;width:16px;height:428px;border-radius:8px;background:#292929"></div>
<div class="b" style="left:-2px;top:-60px;right:0;bottom:0;border:2px solid rgba(255,255,255,.2);border-radius:0 0 24px 24px;box-shadow:0 0 0 40px #040404;box-sizing:border-box"></div>
</div></body></html>
